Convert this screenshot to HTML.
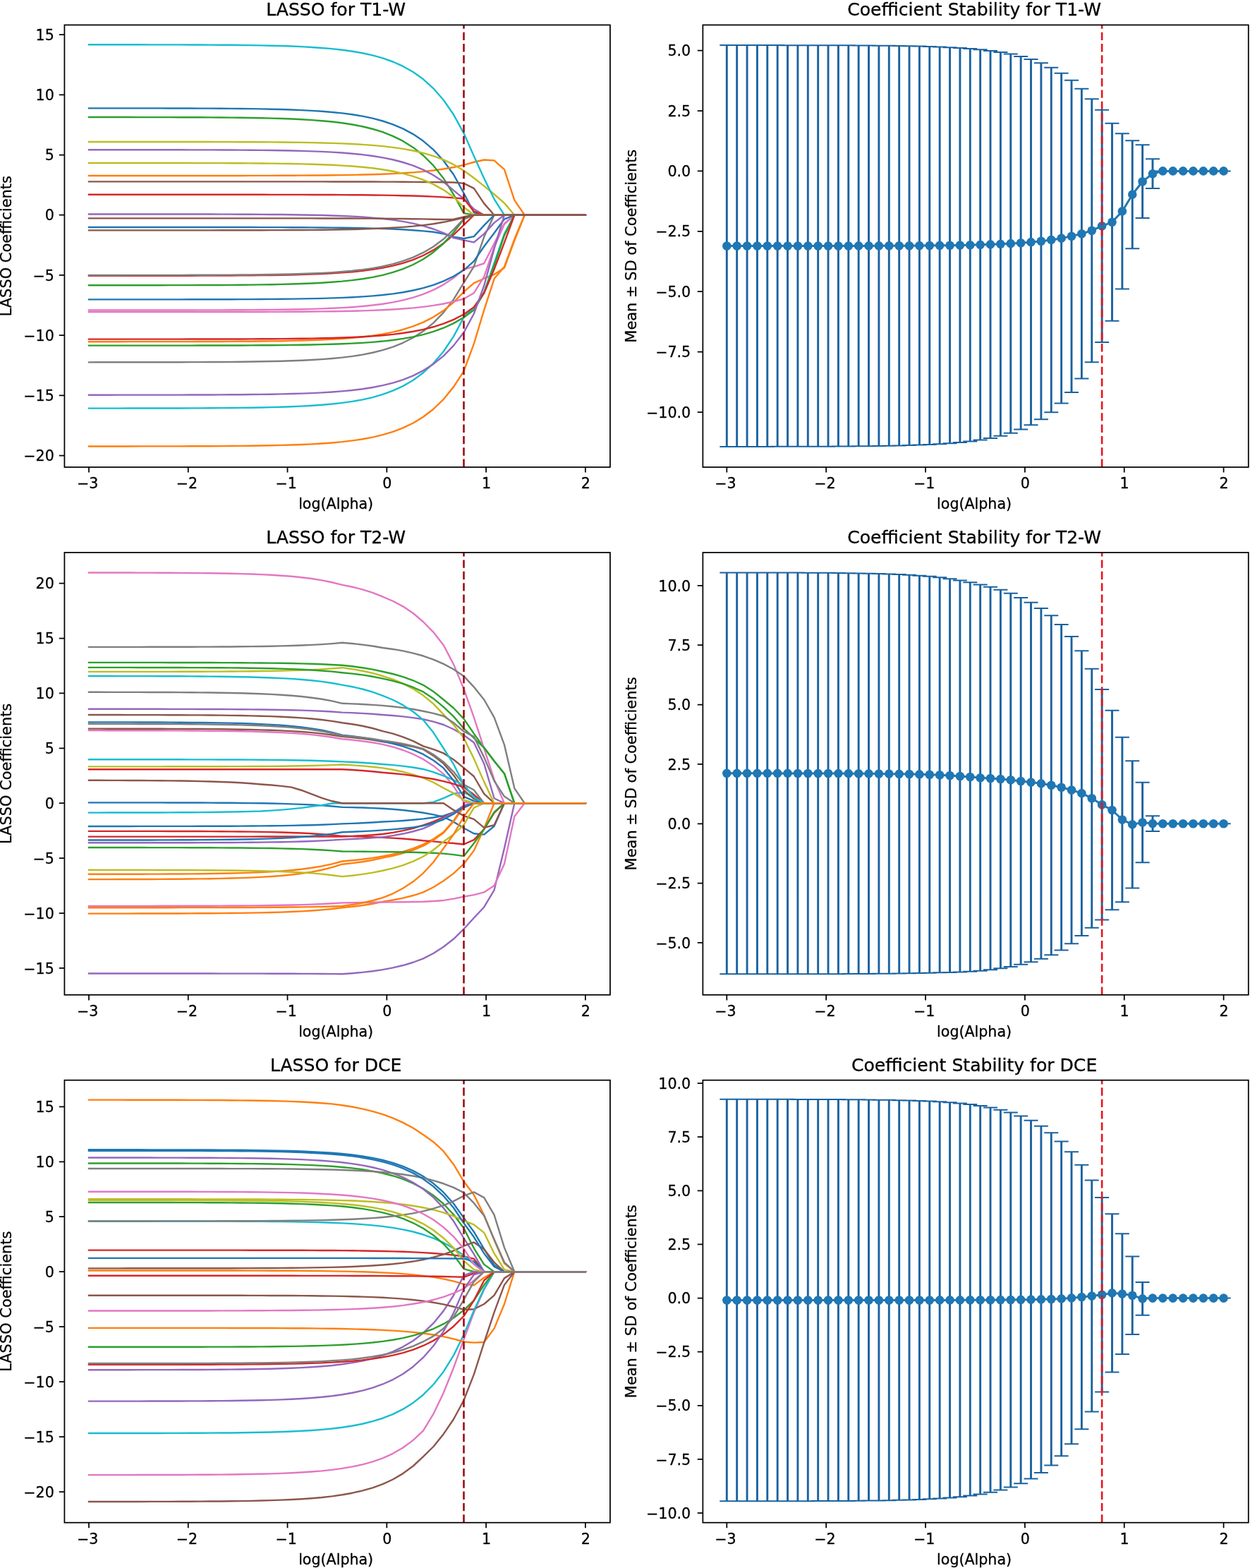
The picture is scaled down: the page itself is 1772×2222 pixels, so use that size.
<!DOCTYPE html>
<html lang="en"><head><meta charset="utf-8"><title>LASSO coefficient paths and stability</title>
<style>
html,body{margin:0;padding:0;background:#fff}
svg{display:block}
text{font-family:'DejaVu Sans','Liberation Sans',sans-serif;fill:#000;stroke:#000;stroke-width:0.3px}
.t{font-size:20.6px}
.yl{font-size:20.95px}
.ti{font-size:25.1px}
</style></head><body>
<svg xmlns="http://www.w3.org/2000/svg" width="1772" height="2222" viewBox="0 0 1772 2222">
<rect width="1772" height="2222" fill="#fff"/>
<clipPath id="c0a"><rect x="91.4" y="35.4" width="773.5" height="626.6"/></clipPath>
<g clip-path="url(#c0a)" fill="none" stroke-width="2.4" stroke-linejoin="round" stroke-linecap="square">
<polyline points="126,153.34 140.36,153.34 154.73,153.35 169.09,153.36 183.46,153.37 197.82,153.38 212.19,153.4 226.55,153.42 240.91,153.45 255.28,153.48 269.64,153.53 284.01,153.58 298.37,153.65 312.74,153.74 327.1,153.85 341.46,153.99 355.83,154.17 370.19,154.4 384.56,154.69 398.92,155.05 413.29,155.51 427.65,156.09 442.01,156.83 456.38,157.76 470.74,158.93 485.11,160.42 499.47,162.3 513.84,164.68 528.2,167.69 542.56,171.5 556.93,176.31 571.29,182.4 585.66,190.11 600.02,199.85 614.39,212.17 628.75,227.76 643.11,247.48 657.48,273.72 671.84,300.99 686.21,304.74 700.57,304.74 714.94,304.74 729.3,304.74 743.66,304.74 758.03,304.74 772.39,304.74 786.76,304.74 801.12,304.74 815.49,304.74 829.85,304.74" stroke="#1f77b4"/>
<polyline points="126,249.01 140.36,249.01 154.73,249.01 169.09,249.01 183.46,249.01 197.82,249 212.19,249 226.55,249 240.91,249 255.28,248.99 269.64,248.99 284.01,248.98 298.37,248.97 312.74,248.96 327.1,248.94 341.46,248.93 355.83,248.9 370.19,248.87 384.56,248.84 398.92,248.79 413.29,248.73 427.65,248.66 442.01,248.57 456.38,248.45 470.74,248.3 485.11,248.11 499.47,247.87 513.84,247.57 528.2,247.18 542.56,246.7 556.93,246.08 571.29,245.31 585.66,244.33 600.02,243.09 614.39,241.52 628.75,239.53 643.11,237.02 657.48,233.84 671.84,229.75 686.21,226.52 700.57,227.37 714.94,240.15 729.3,283.61 743.66,304.74 758.03,304.74 772.39,304.74 786.76,304.74 801.12,304.74 815.49,304.74 829.85,304.74" stroke="#ff7f0e"/>
<polyline points="126,166.04 140.36,166.04 154.73,166.05 169.09,166.06 183.46,166.07 197.82,166.09 212.19,166.11 226.55,166.13 240.91,166.17 255.28,166.21 269.64,166.26 284.01,166.32 298.37,166.4 312.74,166.51 327.1,166.64 341.46,166.8 355.83,167.01 370.19,167.28 384.56,167.61 398.92,168.04 413.29,168.57 427.65,169.25 442.01,170.11 456.38,171.19 470.74,172.56 485.11,174.29 499.47,176.49 513.84,179.26 528.2,182.77 542.56,187.2 556.93,192.82 571.29,199.92 585.66,208.9 600.02,220.25 614.39,234.62 628.75,252.79 643.11,275.77 657.48,302.19 671.84,304.74 686.21,304.74 700.57,304.74 714.94,304.74 729.3,304.74 743.66,304.74 758.03,304.74 772.39,304.74 786.76,304.74 801.12,304.74 815.49,304.74 829.85,304.74" stroke="#2ca02c"/>
<polyline points="126,390.8 140.36,390.79 154.73,390.79 169.09,390.78 183.46,390.78 197.82,390.77 212.19,390.76 226.55,390.75 240.91,390.73 255.28,390.71 269.64,390.68 284.01,390.65 298.37,390.6 312.74,390.55 327.1,390.48 341.46,390.39 355.83,390.28 370.19,390.14 384.56,389.96 398.92,389.74 413.29,389.45 427.65,389.09 442.01,388.64 456.38,388.06 470.74,387.33 485.11,386.41 499.47,385.25 513.84,383.78 528.2,381.91 542.56,379.56 556.93,376.58 571.29,372.81 585.66,368.04 600.02,362.01 614.39,354.38 628.75,344.73 643.11,332.52 657.48,318.89 671.84,304.74 686.21,304.74 700.57,304.74 714.94,304.74 729.3,304.74 743.66,304.74 758.03,304.74 772.39,304.74 786.76,304.74 801.12,304.74 815.49,304.74 829.85,304.74" stroke="#d62728"/>
<polyline points="126,212.21 140.36,212.22 154.73,212.22 169.09,212.22 183.46,212.23 197.82,212.24 212.19,212.25 226.55,212.26 240.91,212.28 255.28,212.3 269.64,212.33 284.01,212.36 298.37,212.41 312.74,212.46 327.1,212.53 341.46,212.61 355.83,212.72 370.19,212.86 384.56,213.04 398.92,213.26 413.29,213.54 427.65,213.9 442.01,214.35 456.38,214.92 470.74,215.64 485.11,216.55 499.47,217.7 513.84,219.15 528.2,220.99 542.56,223.32 556.93,226.27 571.29,229.99 585.66,234.71 600.02,240.67 614.39,248.21 628.75,257.74 643.11,269.81 657.48,281.56 671.84,296.22 686.21,304.74 700.57,304.74 714.94,304.74 729.3,304.74 743.66,304.74 758.03,304.74 772.39,304.74 786.76,304.74 801.12,304.74 815.49,304.74 829.85,304.74" stroke="#9467bd"/>
<polyline points="126,257.36 140.36,257.36 154.73,257.36 169.09,257.36 183.46,257.36 197.82,257.36 212.19,257.36 226.55,257.37 240.91,257.37 255.28,257.37 269.64,257.37 284.01,257.37 298.37,257.37 312.74,257.37 327.1,257.37 341.46,257.37 355.83,257.37 370.19,257.38 384.56,257.38 398.92,257.39 413.29,257.39 427.65,257.4 442.01,257.41 456.38,257.42 470.74,257.43 485.11,257.45 499.47,257.48 513.84,257.51 528.2,257.55 542.56,257.59 556.93,257.66 571.29,257.73 585.66,257.83 600.02,257.95 614.39,258.11 628.75,258.31 643.11,258.56 657.48,259.92 671.84,266.91 686.21,288.38 700.57,304.74 714.94,304.74 729.3,304.74 743.66,304.74 758.03,304.74 772.39,304.74 786.76,304.74 801.12,304.74 815.49,304.74 829.85,304.74" stroke="#8c564b"/>
<polyline points="126,439.54 140.36,439.54 154.73,439.54 169.09,439.53 183.46,439.53 197.82,439.52 212.19,439.51 226.55,439.5 240.91,439.49 255.28,439.47 269.64,439.45 284.01,439.42 298.37,439.39 312.74,439.35 327.1,439.29 341.46,439.22 355.83,439.13 370.19,439.02 384.56,438.88 398.92,438.71 413.29,438.48 427.65,438.2 442.01,437.84 456.38,437.39 470.74,436.82 485.11,436.1 499.47,435.18 513.84,434.02 528.2,432.56 542.56,430.71 556.93,428.36 571.29,425.4 585.66,421.65 600.02,416.91 614.39,410.92 628.75,403.33 643.11,393.74 657.48,381.61 671.84,378.03 686.21,373.26 700.57,344.96 714.94,316.67 729.3,304.74 743.66,304.74 758.03,304.74 772.39,304.74 786.76,304.74 801.12,304.74 815.49,304.74 829.85,304.74" stroke="#e377c2"/>
<polyline points="126,513.33 140.36,513.32 154.73,513.32 169.09,513.31 183.46,513.3 197.82,513.29 212.19,513.27 226.55,513.25 240.91,513.22 255.28,513.19 269.64,513.15 284.01,513.1 298.37,513.03 312.74,512.95 327.1,512.84 341.46,512.71 355.83,512.54 370.19,512.32 384.56,512.05 398.92,511.7 413.29,511.27 427.65,510.72 442.01,510.02 456.38,509.14 470.74,508.03 485.11,506.62 499.47,504.84 513.84,502.58 528.2,499.73 542.56,496.13 556.93,491.56 571.29,485.8 585.66,478.5 600.02,469.27 614.39,457.59 628.75,442.83 643.11,424.15 657.48,400.52 671.84,377.52 686.21,335.59 700.57,304.74 714.94,304.74 729.3,304.74 743.66,304.74 758.03,304.74 772.39,304.74 786.76,304.74 801.12,304.74 815.49,304.74 829.85,304.74" stroke="#7f7f7f"/>
<polyline points="126,200.96 140.36,200.96 154.73,200.96 169.09,200.97 183.46,200.97 197.82,200.97 212.19,200.98 226.55,200.99 240.91,201 255.28,201.01 269.64,201.02 284.01,201.04 298.37,201.07 312.74,201.1 327.1,201.14 341.46,201.18 355.83,201.25 370.19,201.32 384.56,201.42 398.92,201.55 413.29,201.7 427.65,201.9 442.01,202.15 456.38,202.47 470.74,202.87 485.11,203.38 499.47,204.02 513.84,204.84 528.2,205.87 542.56,207.17 556.93,208.82 571.29,210.9 585.66,213.53 600.02,216.87 614.39,221.08 628.75,226.41 643.11,233.16 657.48,241.68 671.84,252.25 686.21,263.67 700.57,275.26 714.94,287.87 729.3,304.74 743.66,304.74 758.03,304.74 772.39,304.74 786.76,304.74 801.12,304.74 815.49,304.74 829.85,304.74" stroke="#bcbd22"/>
<polyline points="126,63.27 140.36,63.27 154.73,63.28 169.09,63.29 183.46,63.3 197.82,63.31 212.19,63.33 226.55,63.35 240.91,63.38 255.28,63.42 269.64,63.47 284.01,63.52 298.37,63.6 312.74,63.69 327.1,63.81 341.46,63.96 355.83,64.15 370.19,64.39 384.56,64.69 398.92,65.07 413.29,65.56 427.65,66.17 442.01,66.95 456.38,67.93 470.74,69.17 485.11,70.74 499.47,72.72 513.84,75.23 528.2,78.4 542.56,82.42 556.93,87.5 571.29,93.92 585.66,102.04 600.02,112.32 614.39,125.32 628.75,141.76 643.11,162.55 657.48,188.85 671.84,221.23 686.21,252.76 700.57,282.08 714.94,304.74 729.3,304.74 743.66,304.74 758.03,304.74 772.39,304.74 786.76,304.74 801.12,304.74 815.49,304.74 829.85,304.74" stroke="#17becf"/>
<polyline points="126,321.96 140.36,321.96 154.73,321.96 169.09,321.96 183.46,321.96 197.82,321.96 212.19,321.97 226.55,321.97 240.91,321.97 255.28,321.98 269.64,321.98 284.01,321.99 298.37,321.99 312.74,322.01 327.1,322.02 341.46,322.03 355.83,322.06 370.19,322.08 384.56,322.11 398.92,322.16 413.29,322.21 427.65,322.28 442.01,322.36 456.38,322.47 470.74,322.61 485.11,322.78 499.47,323 513.84,323.27 528.2,323.62 542.56,324.06 556.93,324.62 571.29,325.32 585.66,326.22 600.02,327.35 614.39,328.77 628.75,331.41 643.11,335.59 657.48,337.98 671.84,335.08 686.21,319.4 700.57,304.74 714.94,304.74 729.3,304.74 743.66,304.74 758.03,304.74 772.39,304.74 786.76,304.74 801.12,304.74 815.49,304.74 829.85,304.74" stroke="#1f77b4"/>
<polyline points="126,484.19 140.36,484.19 154.73,484.19 169.09,484.18 183.46,484.17 197.82,484.17 212.19,484.16 226.55,484.14 240.91,484.13 255.28,484.11 269.64,484.08 284.01,484.05 298.37,484.01 312.74,483.95 327.1,483.89 341.46,483.8 355.83,483.7 370.19,483.56 384.56,483.39 398.92,483.18 413.29,482.9 427.65,482.56 442.01,482.12 456.38,481.57 470.74,480.88 485.11,480 499.47,478.88 513.84,477.47 528.2,475.69 542.56,473.43 556.93,470.58 571.29,466.97 585.66,462.41 600.02,456.64 614.39,449.34 628.75,440.1 643.11,428.42 657.48,413.65 671.84,401.04 686.21,394.73 700.57,388.93 714.94,379.56 729.3,340.87 743.66,304.74 758.03,304.74 772.39,304.74 786.76,304.74 801.12,304.74 815.49,304.74 829.85,304.74" stroke="#ff7f0e"/>
<polyline points="126,404.26 140.36,404.25 154.73,404.25 169.09,404.24 183.46,404.23 197.82,404.22 212.19,404.21 226.55,404.19 240.91,404.17 255.28,404.14 269.64,404.11 284.01,404.06 298.37,404.01 312.74,403.94 327.1,403.85 341.46,403.73 355.83,403.59 370.19,403.41 384.56,403.18 398.92,402.89 413.29,402.53 427.65,402.06 442.01,401.48 456.38,400.74 470.74,399.8 485.11,398.62 499.47,397.12 513.84,395.22 528.2,392.83 542.56,389.8 556.93,385.96 571.29,381.11 585.66,374.98 600.02,367.22 614.39,357.4 628.75,344.99 643.11,329.28 657.48,310.54 671.84,304.74 686.21,304.74 700.57,304.74 714.94,304.74 729.3,304.74 743.66,304.74 758.03,304.74 772.39,304.74 786.76,304.74 801.12,304.74 815.49,304.74 829.85,304.74" stroke="#2ca02c"/>
<polyline points="126,275.77 140.36,275.77 154.73,275.77 169.09,275.77 183.46,275.77 197.82,275.77 212.19,275.77 226.55,275.78 240.91,275.78 255.28,275.78 269.64,275.78 284.01,275.78 298.37,275.79 312.74,275.79 327.1,275.8 341.46,275.8 355.83,275.81 370.19,275.82 384.56,275.84 398.92,275.85 413.29,275.88 427.65,275.91 442.01,275.94 456.38,275.99 470.74,276.04 485.11,276.12 499.47,276.21 513.84,276.32 528.2,276.47 542.56,276.65 556.93,276.89 571.29,277.19 585.66,277.56 600.02,278.03 614.39,278.63 628.75,279.39 643.11,280.35 657.48,281.56 671.84,299.63 686.21,304.74 700.57,304.74 714.94,304.74 729.3,304.74 743.66,304.74 758.03,304.74 772.39,304.74 786.76,304.74 801.12,304.74 815.49,304.74 829.85,304.74" stroke="#d62728"/>
<polyline points="126,303.45 140.36,303.46 154.73,303.46 169.09,303.46 183.46,303.47 197.82,303.47 212.19,303.48 226.55,303.48 240.91,303.49 255.28,303.51 269.64,303.52 284.01,303.54 298.37,303.57 312.74,303.6 327.1,303.64 341.46,303.69 355.83,303.75 370.19,303.84 384.56,303.94 398.92,304.07 413.29,304.23 427.65,304.44 442.01,304.7 456.38,305.04 470.74,305.46 485.11,305.99 499.47,306.66 513.84,307.51 528.2,308.59 542.56,309.95 556.93,311.67 571.29,313.85 585.66,316.6 600.02,320.09 614.39,324.5 628.75,330.07 643.11,337.12 657.48,340.36 671.84,343.43 686.21,331.41 700.57,315.65 714.94,304.74 729.3,304.74 743.66,304.74 758.03,304.74 772.39,304.74 786.76,304.74 801.12,304.74 815.49,304.74 829.85,304.74" stroke="#9467bd"/>
<polyline points="126,309.34 140.36,309.35 154.73,309.35 169.09,309.35 183.46,309.35 197.82,309.35 212.19,309.35 226.55,309.35 240.91,309.35 255.28,309.35 269.64,309.35 284.01,309.35 298.37,309.35 312.74,309.35 327.1,309.36 341.46,309.36 355.83,309.36 370.19,309.37 384.56,309.38 398.92,309.38 413.29,309.39 427.65,309.41 442.01,309.42 456.38,309.45 470.74,309.47 485.11,309.51 499.47,309.55 513.84,309.6 528.2,309.67 542.56,309.76 556.93,309.87 571.29,310.01 585.66,310.19 600.02,310.41 614.39,310.69 628.75,311.05 643.11,310.71 657.48,307.3 671.84,304.74 686.21,304.74 700.57,304.74 714.94,304.74 729.3,304.74 743.66,304.74 758.03,304.74 772.39,304.74 786.76,304.74 801.12,304.74 815.49,304.74 829.85,304.74" stroke="#8c564b"/>
<polyline points="126,442.11 140.36,442.1 154.73,442.1 169.09,442.1 183.46,442.1 197.82,442.1 212.19,442.1 226.55,442.09 240.91,442.09 255.28,442.08 269.64,442.08 284.01,442.07 298.37,442.06 312.74,442.04 327.1,442.02 341.46,442 355.83,441.97 370.19,441.94 384.56,441.89 398.92,441.84 413.29,441.77 427.65,441.68 442.01,441.56 456.38,441.42 470.74,441.23 485.11,441 499.47,440.71 513.84,440.34 528.2,439.87 542.56,439.27 556.93,438.52 571.29,437.57 585.66,436.37 600.02,434.85 614.39,432.93 628.75,430.5 643.11,427.42 657.48,423.53 671.84,415.18 686.21,392.17 700.57,350.25 714.94,317.87 729.3,304.74 743.66,304.74 758.03,304.74 772.39,304.74 786.76,304.74 801.12,304.74 815.49,304.74 829.85,304.74" stroke="#e377c2"/>
<polyline points="126,389.94 140.36,389.94 154.73,389.94 169.09,389.93 183.46,389.92 197.82,389.91 212.19,389.9 226.55,389.89 240.91,389.87 255.28,389.84 269.64,389.81 284.01,389.78 298.37,389.73 312.74,389.67 327.1,389.59 341.46,389.49 355.83,389.37 370.19,389.21 384.56,389.01 398.92,388.76 413.29,388.45 427.65,388.05 442.01,387.54 456.38,386.9 470.74,386.09 485.11,385.07 499.47,383.78 513.84,382.14 528.2,380.07 542.56,377.45 556.93,374.14 571.29,369.95 585.66,364.65 600.02,357.95 614.39,349.48 628.75,338.76 643.11,325.19 657.48,310.03 671.84,304.74 686.21,304.74 700.57,304.74 714.94,304.74 729.3,304.74 743.66,304.74 758.03,304.74 772.39,304.74 786.76,304.74 801.12,304.74 815.49,304.74 829.85,304.74" stroke="#7f7f7f"/>
<polyline points="126,230.96 140.36,230.96 154.73,230.96 169.09,230.97 183.46,230.97 197.82,230.98 212.19,230.99 226.55,231 240.91,231.01 255.28,231.03 269.64,231.05 284.01,231.08 298.37,231.12 312.74,231.16 327.1,231.22 341.46,231.29 355.83,231.39 370.19,231.5 384.56,231.65 398.92,231.84 413.29,232.07 427.65,232.37 442.01,232.75 456.38,233.22 470.74,233.82 485.11,234.59 499.47,235.55 513.84,236.77 528.2,238.31 542.56,240.26 556.93,242.73 571.29,245.85 585.66,249.79 600.02,254.78 614.39,261.09 628.75,269.08 643.11,279.18 657.48,293.49 671.84,304.74 686.21,304.74 700.57,304.74 714.94,304.74 729.3,304.74 743.66,304.74 758.03,304.74 772.39,304.74 786.76,304.74 801.12,304.74 815.49,304.74 829.85,304.74" stroke="#bcbd22"/>
<polyline points="126,578.6 140.36,578.59 154.73,578.59 169.09,578.58 183.46,578.57 197.82,578.55 212.19,578.53 226.55,578.51 240.91,578.48 255.28,578.44 269.64,578.39 284.01,578.33 298.37,578.26 312.74,578.16 327.1,578.04 341.46,577.89 355.83,577.69 370.19,577.45 384.56,577.14 398.92,576.74 413.29,576.25 427.65,575.62 442.01,574.82 456.38,573.81 470.74,572.54 485.11,570.93 499.47,568.89 513.84,566.31 528.2,563.05 542.56,558.93 556.93,553.71 571.29,547.12 585.66,538.77 600.02,528.22 614.39,514.87 628.75,497.98 643.11,476.62 657.48,449.61 671.84,435.97 686.21,413.82 700.57,372.91 714.94,331.33 729.3,304.74 743.66,304.74 758.03,304.74 772.39,304.74 786.76,304.74 801.12,304.74 815.49,304.74 829.85,304.74" stroke="#17becf"/>
<polyline points="126,424.38 140.36,424.37 154.73,424.37 169.09,424.37 183.46,424.37 197.82,424.36 212.19,424.36 226.55,424.35 240.91,424.34 255.28,424.33 269.64,424.31 284.01,424.29 298.37,424.27 312.74,424.24 327.1,424.2 341.46,424.15 355.83,424.08 370.19,424.01 384.56,423.9 398.92,423.78 413.29,423.62 427.65,423.41 442.01,423.16 456.38,422.83 470.74,422.42 485.11,421.9 499.47,421.25 513.84,420.42 528.2,419.37 542.56,418.04 556.93,416.35 571.29,414.23 585.66,411.54 600.02,408.14 614.39,403.83 628.75,398.39 643.11,391.51 657.48,382.8 671.84,370.19 686.21,349.22 700.57,330.31 714.94,310.54 729.3,304.74 743.66,304.74 758.03,304.74 772.39,304.74 786.76,304.74 801.12,304.74 815.49,304.74 829.85,304.74" stroke="#1f77b4"/>
<polyline points="126,632.46 140.36,632.45 154.73,632.45 169.09,632.44 183.46,632.43 197.82,632.42 212.19,632.4 226.55,632.38 240.91,632.36 255.28,632.33 269.64,632.29 284.01,632.24 298.37,632.18 312.74,632.1 327.1,632 341.46,631.87 355.83,631.71 370.19,631.51 384.56,631.25 398.92,630.92 413.29,630.51 427.65,629.99 442.01,629.33 456.38,628.5 470.74,627.45 485.11,626.11 499.47,624.43 513.84,622.3 528.2,619.6 542.56,616.19 556.93,611.88 571.29,606.42 585.66,599.52 600.02,590.79 614.39,579.75 628.75,565.79 643.11,548.13 657.48,525.79 671.84,487.1 686.21,439.38 700.57,395.07 714.94,378.03 729.3,338.83 743.66,304.74 758.03,304.74 772.39,304.74 786.76,304.74 801.12,304.74 815.49,304.74 829.85,304.74" stroke="#ff7f0e"/>
<polyline points="126,489.65 140.36,489.65 154.73,489.65 169.09,489.64 183.46,489.64 197.82,489.64 212.19,489.63 226.55,489.62 240.91,489.61 255.28,489.6 269.64,489.59 284.01,489.57 298.37,489.55 312.74,489.52 327.1,489.48 341.46,489.43 355.83,489.37 370.19,489.29 384.56,489.2 398.92,489.08 413.29,488.92 427.65,488.73 442.01,488.48 456.38,488.17 470.74,487.78 485.11,487.28 499.47,486.65 513.84,485.85 528.2,484.85 542.56,483.57 556.93,481.96 571.29,479.92 585.66,477.34 600.02,474.08 614.39,469.95 628.75,464.73 643.11,458.13 657.48,449.78 671.84,439.38 686.21,415.18 700.57,376.32 714.94,333.72 729.3,304.74 743.66,304.74 758.03,304.74 772.39,304.74 786.76,304.74 801.12,304.74 815.49,304.74 829.85,304.74" stroke="#2ca02c"/>
<polyline points="126,480.62 140.36,480.62 154.73,480.62 169.09,480.61 183.46,480.61 197.82,480.61 212.19,480.6 226.55,480.59 240.91,480.59 255.28,480.58 269.64,480.56 284.01,480.55 298.37,480.53 312.74,480.5 327.1,480.47 341.46,480.43 355.83,480.37 370.19,480.31 384.56,480.22 398.92,480.11 413.29,479.98 427.65,479.81 442.01,479.59 456.38,479.32 470.74,478.97 485.11,478.53 499.47,477.98 513.84,477.28 528.2,476.39 542.56,475.27 556.93,473.85 571.29,472.05 585.66,469.78 600.02,466.91 614.39,463.28 628.75,458.68 643.11,452.87 657.48,445.52 671.84,435.12 686.21,415.18 700.57,381.61 714.94,343.94 729.3,304.74 743.66,304.74 758.03,304.74 772.39,304.74 786.76,304.74 801.12,304.74 815.49,304.74 829.85,304.74" stroke="#d62728"/>
<polyline points="126,559.69 140.36,559.69 154.73,559.68 169.09,559.67 183.46,559.67 197.82,559.66 212.19,559.64 226.55,559.63 240.91,559.61 255.28,559.58 269.64,559.55 284.01,559.51 298.37,559.45 312.74,559.39 327.1,559.31 341.46,559.2 355.83,559.07 370.19,558.9 384.56,558.68 398.92,558.41 413.29,558.07 427.65,557.64 442.01,557.09 456.38,556.4 470.74,555.53 485.11,554.42 499.47,553.02 513.84,551.25 528.2,549.01 542.56,546.18 556.93,542.59 571.29,538.06 585.66,532.33 600.02,525.08 614.39,515.91 628.75,504.31 643.11,489.64 657.48,471.08 671.84,444.49 686.21,404.78 700.57,352.46 714.94,304.74 729.3,304.74 743.66,304.74 758.03,304.74 772.39,304.74 786.76,304.74 801.12,304.74 815.49,304.74 829.85,304.74" stroke="#9467bd"/>
<polyline points="126,326.38 140.36,326.38 154.73,326.38 169.09,326.38 183.46,326.38 197.82,326.38 212.19,326.37 226.55,326.37 240.91,326.37 255.28,326.36 269.64,326.35 284.01,326.35 298.37,326.34 312.74,326.32 327.1,326.3 341.46,326.28 355.83,326.25 370.19,326.22 384.56,326.17 398.92,326.12 413.29,326.05 427.65,325.96 442.01,325.84 456.38,325.7 470.74,325.51 485.11,325.28 499.47,324.99 513.84,324.62 528.2,324.15 542.56,323.56 556.93,322.81 571.29,321.86 585.66,320.66 600.02,319.14 614.39,317.23 628.75,314.8 643.11,311.73 657.48,308.32 671.84,304.74 686.21,304.74 700.57,304.74 714.94,304.74 729.3,304.74 743.66,304.74 758.03,304.74 772.39,304.74 786.76,304.74 801.12,304.74 815.49,304.74 829.85,304.74" stroke="#8c564b"/>
<line x1="657.48" y1="662" x2="657.48" y2="35.4" stroke="#a00a0f" stroke-width="2.6" stroke-dasharray="11.4 4.95" stroke-linecap="butt" fill="none"/>
</g>
<rect x="91.4" y="35.4" width="773.5" height="626.6" fill="none" stroke="#000" stroke-width="1.75" stroke-linejoin="miter"/>
<path d="M126 662v7.6M266.77 662v7.6M407.54 662v7.6M548.31 662v7.6M689.08 662v7.6M829.85 662v7.6M91.4 49.1h-7.6M91.4 134.31h-7.6M91.4 219.53h-7.6M91.4 304.74h-7.6M91.4 389.96h-7.6M91.4 475.17h-7.6M91.4 560.39h-7.6M91.4 645.6h-7.6" stroke="#000" stroke-width="1.75" fill="none"/>
<text x="124.2" y="691.8" text-anchor="middle" class="t">−3</text>
<text x="264.97" y="691.8" text-anchor="middle" class="t">−2</text>
<text x="405.74" y="691.8" text-anchor="middle" class="t">−1</text>
<text x="548.71" y="691.8" text-anchor="middle" class="t">0</text>
<text x="689.48" y="691.8" text-anchor="middle" class="t">1</text>
<text x="830.25" y="691.8" text-anchor="middle" class="t">2</text>
<text x="76.8" y="56.7" text-anchor="end" class="t">15</text>
<text x="76.8" y="141.91" text-anchor="end" class="t">10</text>
<text x="76.8" y="227.13" text-anchor="end" class="t">5</text>
<text x="76.8" y="312.34" text-anchor="end" class="t">0</text>
<text x="76.8" y="397.56" text-anchor="end" class="t">−5</text>
<text x="76.8" y="482.77" text-anchor="end" class="t">−10</text>
<text x="76.8" y="567.99" text-anchor="end" class="t">−15</text>
<text x="76.8" y="653.2" text-anchor="end" class="t">−20</text>
<text x="476.15" y="22.4" text-anchor="middle" class="ti">LASSO for T1-W</text>
<text x="476.15" y="721.3" text-anchor="middle" class="t">log(Alpha)</text>
<text transform="translate(16.4 348.7) rotate(-90)" text-anchor="middle" class="yl">LASSO Coefficients</text>
<clipPath id="c0b"><rect x="996.35" y="35.4" width="773.45" height="626.6"/></clipPath>
<g clip-path="url(#c0b)" fill="none">
<path d="M1030.3 632.92V64.08M1044.67 632.91V64.09M1059.05 632.9V64.09M1073.42 632.89V64.1M1087.79 632.88V64.11M1102.17 632.86V64.12M1116.54 632.83V64.14M1130.91 632.8V64.16M1145.29 632.77V64.18M1159.66 632.72V64.21M1174.03 632.66V64.25M1188.41 632.59V64.3M1202.78 632.49V64.36M1217.16 632.37V64.44M1231.53 632.22V64.54M1245.9 632.03V64.66M1260.28 631.79V64.82M1274.65 631.48V65.02M1289.02 631.1V65.27M1303.4 630.61V65.59M1317.77 629.99V66M1332.14 629.21V66.51M1346.52 628.22V67.15M1360.89 626.97V67.97M1375.26 625.39V69M1389.64 623.4V70.3M1404.01 620.88V71.94M1418.38 617.7V74.01M1432.76 613.68V76.62M1447.13 608.62V79.91M1461.5 602.24V84.04M1475.88 594.22V89.21M1490.25 584.16V95.69M1504.62 571.56V103.73M1519 555.88V113.66M1533.37 536.58V125.82M1547.74 513.16V140.21M1562.12 484.99V155.66M1576.49 454.86V174.78M1590.87 409.52V189.31M1605.24 352.16V199.17M1619.61 309.12V205.32M1633.99 267.06V225.3M1648.36 242.4V242.4M1662.73 242.4V242.4M1677.11 242.4V242.4M1691.48 242.4V242.4M1705.85 242.4V242.4M1720.23 242.4V242.4M1734.6 242.4V242.4" stroke="#1a62a0" stroke-width="2.9"/>
<path d="M1020.3 64.08h20M1020.3 632.92h20M1034.67 64.09h20M1034.67 632.91h20M1049.05 64.09h20M1049.05 632.9h20M1063.42 64.1h20M1063.42 632.89h20M1077.79 64.11h20M1077.79 632.88h20M1092.17 64.12h20M1092.17 632.86h20M1106.54 64.14h20M1106.54 632.83h20M1120.91 64.16h20M1120.91 632.8h20M1135.29 64.18h20M1135.29 632.77h20M1149.66 64.21h20M1149.66 632.72h20M1164.03 64.25h20M1164.03 632.66h20M1178.41 64.3h20M1178.41 632.59h20M1192.78 64.36h20M1192.78 632.49h20M1207.16 64.44h20M1207.16 632.37h20M1221.53 64.54h20M1221.53 632.22h20M1235.9 64.66h20M1235.9 632.03h20M1250.28 64.82h20M1250.28 631.79h20M1264.65 65.02h20M1264.65 631.48h20M1279.02 65.27h20M1279.02 631.1h20M1293.4 65.59h20M1293.4 630.61h20M1307.77 66h20M1307.77 629.99h20M1322.14 66.51h20M1322.14 629.21h20M1336.52 67.15h20M1336.52 628.22h20M1350.89 67.97h20M1350.89 626.97h20M1365.26 69h20M1365.26 625.39h20M1379.64 70.3h20M1379.64 623.4h20M1394.01 71.94h20M1394.01 620.88h20M1408.38 74.01h20M1408.38 617.7h20M1422.76 76.62h20M1422.76 613.68h20M1437.13 79.91h20M1437.13 608.62h20M1451.5 84.04h20M1451.5 602.24h20M1465.88 89.21h20M1465.88 594.22h20M1480.25 95.69h20M1480.25 584.16h20M1494.62 103.73h20M1494.62 571.56h20M1509 113.66h20M1509 555.88h20M1523.37 125.82h20M1523.37 536.58h20M1537.74 140.21h20M1537.74 513.16h20M1552.12 155.66h20M1552.12 484.99h20M1566.49 174.78h20M1566.49 454.86h20M1580.87 189.31h20M1580.87 409.52h20M1595.24 199.17h20M1595.24 352.16h20M1609.61 205.32h20M1609.61 309.12h20M1623.99 225.3h20M1623.99 267.06h20M1638.36 242.4h20M1638.36 242.4h20M1652.73 242.4h20M1652.73 242.4h20M1667.11 242.4h20M1667.11 242.4h20M1681.48 242.4h20M1681.48 242.4h20M1695.85 242.4h20M1695.85 242.4h20M1710.23 242.4h20M1710.23 242.4h20M1724.6 242.4h20M1724.6 242.4h20" stroke="#1a62a0" stroke-width="2.0"/>
<polyline points="1030.3,348.5 1044.67,348.5 1059.05,348.5 1073.42,348.5 1087.79,348.49 1102.17,348.49 1116.54,348.49 1130.91,348.48 1145.29,348.47 1159.66,348.47 1174.03,348.46 1188.41,348.44 1202.78,348.43 1217.16,348.41 1231.53,348.38 1245.9,348.35 1260.28,348.3 1274.65,348.25 1289.02,348.18 1303.4,348.1 1317.77,347.99 1332.14,347.86 1346.52,347.69 1360.89,347.47 1375.26,347.19 1389.64,346.85 1404.01,346.41 1418.38,345.85 1432.76,345.15 1447.13,344.26 1461.5,343.14 1475.88,341.72 1490.25,339.92 1504.62,337.65 1519,334.77 1533.37,331.2 1547.74,326.69 1562.12,320.32 1576.49,314.82 1590.87,299.41 1605.24,275.67 1619.61,257.22 1633.99,246.18 1648.36,242.4 1662.73,242.4 1677.11,242.4 1691.48,242.4 1705.85,242.4 1720.23,242.4 1734.6,242.4" stroke="#1f77b4" stroke-width="3.0" stroke-linejoin="round"/>
<circle cx="1030.3" cy="348.5" r="6.3" fill="#1f77b4" stroke="none"/>
<circle cx="1044.67" cy="348.5" r="6.3" fill="#1f77b4" stroke="none"/>
<circle cx="1059.05" cy="348.5" r="6.3" fill="#1f77b4" stroke="none"/>
<circle cx="1073.42" cy="348.5" r="6.3" fill="#1f77b4" stroke="none"/>
<circle cx="1087.79" cy="348.49" r="6.3" fill="#1f77b4" stroke="none"/>
<circle cx="1102.17" cy="348.49" r="6.3" fill="#1f77b4" stroke="none"/>
<circle cx="1116.54" cy="348.49" r="6.3" fill="#1f77b4" stroke="none"/>
<circle cx="1130.91" cy="348.48" r="6.3" fill="#1f77b4" stroke="none"/>
<circle cx="1145.29" cy="348.47" r="6.3" fill="#1f77b4" stroke="none"/>
<circle cx="1159.66" cy="348.47" r="6.3" fill="#1f77b4" stroke="none"/>
<circle cx="1174.03" cy="348.46" r="6.3" fill="#1f77b4" stroke="none"/>
<circle cx="1188.41" cy="348.44" r="6.3" fill="#1f77b4" stroke="none"/>
<circle cx="1202.78" cy="348.43" r="6.3" fill="#1f77b4" stroke="none"/>
<circle cx="1217.16" cy="348.41" r="6.3" fill="#1f77b4" stroke="none"/>
<circle cx="1231.53" cy="348.38" r="6.3" fill="#1f77b4" stroke="none"/>
<circle cx="1245.9" cy="348.35" r="6.3" fill="#1f77b4" stroke="none"/>
<circle cx="1260.28" cy="348.3" r="6.3" fill="#1f77b4" stroke="none"/>
<circle cx="1274.65" cy="348.25" r="6.3" fill="#1f77b4" stroke="none"/>
<circle cx="1289.02" cy="348.18" r="6.3" fill="#1f77b4" stroke="none"/>
<circle cx="1303.4" cy="348.1" r="6.3" fill="#1f77b4" stroke="none"/>
<circle cx="1317.77" cy="347.99" r="6.3" fill="#1f77b4" stroke="none"/>
<circle cx="1332.14" cy="347.86" r="6.3" fill="#1f77b4" stroke="none"/>
<circle cx="1346.52" cy="347.69" r="6.3" fill="#1f77b4" stroke="none"/>
<circle cx="1360.89" cy="347.47" r="6.3" fill="#1f77b4" stroke="none"/>
<circle cx="1375.26" cy="347.19" r="6.3" fill="#1f77b4" stroke="none"/>
<circle cx="1389.64" cy="346.85" r="6.3" fill="#1f77b4" stroke="none"/>
<circle cx="1404.01" cy="346.41" r="6.3" fill="#1f77b4" stroke="none"/>
<circle cx="1418.38" cy="345.85" r="6.3" fill="#1f77b4" stroke="none"/>
<circle cx="1432.76" cy="345.15" r="6.3" fill="#1f77b4" stroke="none"/>
<circle cx="1447.13" cy="344.26" r="6.3" fill="#1f77b4" stroke="none"/>
<circle cx="1461.5" cy="343.14" r="6.3" fill="#1f77b4" stroke="none"/>
<circle cx="1475.88" cy="341.72" r="6.3" fill="#1f77b4" stroke="none"/>
<circle cx="1490.25" cy="339.92" r="6.3" fill="#1f77b4" stroke="none"/>
<circle cx="1504.62" cy="337.65" r="6.3" fill="#1f77b4" stroke="none"/>
<circle cx="1519" cy="334.77" r="6.3" fill="#1f77b4" stroke="none"/>
<circle cx="1533.37" cy="331.2" r="6.3" fill="#1f77b4" stroke="none"/>
<circle cx="1547.74" cy="326.69" r="6.3" fill="#1f77b4" stroke="none"/>
<circle cx="1562.12" cy="320.32" r="6.3" fill="#1f77b4" stroke="none"/>
<circle cx="1576.49" cy="314.82" r="6.3" fill="#1f77b4" stroke="none"/>
<circle cx="1590.87" cy="299.41" r="6.3" fill="#1f77b4" stroke="none"/>
<circle cx="1605.24" cy="275.67" r="6.3" fill="#1f77b4" stroke="none"/>
<circle cx="1619.61" cy="257.22" r="6.3" fill="#1f77b4" stroke="none"/>
<circle cx="1633.99" cy="246.18" r="6.3" fill="#1f77b4" stroke="none"/>
<circle cx="1648.36" cy="242.4" r="6.3" fill="#1f77b4" stroke="none"/>
<circle cx="1662.73" cy="242.4" r="6.3" fill="#1f77b4" stroke="none"/>
<circle cx="1677.11" cy="242.4" r="6.3" fill="#1f77b4" stroke="none"/>
<circle cx="1691.48" cy="242.4" r="6.3" fill="#1f77b4" stroke="none"/>
<circle cx="1705.85" cy="242.4" r="6.3" fill="#1f77b4" stroke="none"/>
<circle cx="1720.23" cy="242.4" r="6.3" fill="#1f77b4" stroke="none"/>
<circle cx="1734.6" cy="242.4" r="6.3" fill="#1f77b4" stroke="none"/>
<line x1="1562.12" y1="662" x2="1562.12" y2="35.4" stroke="#e8141a" stroke-width="2.6" stroke-dasharray="11.4 4.95" stroke-linecap="butt" fill="none"/>
</g>
<rect x="996.35" y="35.4" width="773.45" height="626.6" fill="none" stroke="#000" stroke-width="1.75" stroke-linejoin="miter"/>
<path d="M1030.3 662v7.6M1171.16 662v7.6M1312.02 662v7.6M1452.88 662v7.6M1593.74 662v7.6M1734.6 662v7.6M996.35 71.6h-7.6M996.35 157h-7.6M996.35 242.4h-7.6M996.35 327.8h-7.6M996.35 413.2h-7.6M996.35 498.6h-7.6M996.35 584h-7.6" stroke="#000" stroke-width="1.75" fill="none"/>
<text x="1028.5" y="691.8" text-anchor="middle" class="t">−3</text>
<text x="1169.36" y="691.8" text-anchor="middle" class="t">−2</text>
<text x="1310.22" y="691.8" text-anchor="middle" class="t">−1</text>
<text x="1453.28" y="691.8" text-anchor="middle" class="t">0</text>
<text x="1594.14" y="691.8" text-anchor="middle" class="t">1</text>
<text x="1735" y="691.8" text-anchor="middle" class="t">2</text>
<text x="979.15" y="79.2" text-anchor="end" class="t">5.0</text>
<text x="979.15" y="164.6" text-anchor="end" class="t">2.5</text>
<text x="979.15" y="250" text-anchor="end" class="t">0.0</text>
<text x="979.15" y="335.4" text-anchor="end" class="t">−2.5</text>
<text x="979.15" y="420.8" text-anchor="end" class="t">−5.0</text>
<text x="979.15" y="506.2" text-anchor="end" class="t">−7.5</text>
<text x="979.15" y="591.6" text-anchor="end" class="t">−10.0</text>
<text x="1381.08" y="22.4" text-anchor="middle" class="ti">Coefficient Stability for T1-W</text>
<text x="1381.08" y="721.3" text-anchor="middle" class="t">log(Alpha)</text>
<text transform="translate(901.7 348.7) rotate(-90)" text-anchor="middle" class="yl">Mean ± SD of Coefficients</text>
<clipPath id="c1a"><rect x="91.4" y="783" width="773.5" height="626.8"/></clipPath>
<g clip-path="url(#c1a)" fill="none" stroke-width="2.4" stroke-linejoin="round" stroke-linecap="square">
<polyline points="126,1137.33 140.36,1137.33 154.73,1137.34 169.09,1137.35 183.46,1137.36 197.82,1137.37 212.19,1137.38 226.55,1137.4 240.91,1137.43 255.28,1137.46 269.64,1137.5 284.01,1137.55 298.37,1137.62 312.74,1137.7 327.1,1137.8 341.46,1137.93 355.83,1138.1 370.19,1138.31 384.56,1138.57 398.92,1138.91 413.29,1139.33 427.65,1139.86 442.01,1140.54 456.38,1141.4 470.74,1142.48 485.11,1143.85 499.47,1144.17 513.84,1144.57 528.2,1145.08 542.56,1145.72 556.93,1146.75 571.29,1148.06 585.66,1149.71 600.02,1151.79 614.39,1154.41 628.75,1157.71 643.11,1164.66 657.48,1173.45 671.84,1181.24 686.21,1182.64 700.57,1170.8 714.94,1138.24 729.3,1138.24 743.66,1138.24 758.03,1138.24 772.39,1138.24 786.76,1138.24 801.12,1138.24 815.49,1138.24 829.85,1138.24" stroke="#1f77b4"/>
<polyline points="126,1238.82 140.36,1238.81 154.73,1238.79 169.09,1238.77 183.46,1238.74 197.82,1238.7 212.19,1238.66 226.55,1238.6 240.91,1238.53 255.28,1238.44 269.64,1238.33 284.01,1238.19 298.37,1238 312.74,1237.78 327.1,1237.48 341.46,1237.12 355.83,1236.65 370.19,1236.07 384.56,1235.32 398.92,1234.38 413.29,1233.19 427.65,1231.69 442.01,1229.79 456.38,1227.38 470.74,1224.34 485.11,1220.49 499.47,1219.3 513.84,1217.79 528.2,1215.89 542.56,1213.48 556.93,1210.62 571.29,1207.01 585.66,1202.44 600.02,1196.66 614.39,1188.95 628.75,1179.21 643.11,1162.77 657.48,1141.98 671.84,1138.24 686.21,1138.24 700.57,1138.24 714.94,1138.24 729.3,1138.24 743.66,1138.24 758.03,1138.24 772.39,1138.24 786.76,1138.24 801.12,1138.24 815.49,1138.24 829.85,1138.24" stroke="#ff7f0e"/>
<polyline points="126,938.87 140.36,938.87 154.73,938.87 169.09,938.88 183.46,938.88 197.82,938.89 212.19,938.9 226.55,938.91 240.91,938.93 255.28,938.95 269.64,938.97 284.01,939 298.37,939.04 312.74,939.09 327.1,939.15 341.46,939.23 355.83,939.33 370.19,939.45 384.56,939.61 398.92,939.81 413.29,940.06 427.65,940.38 442.01,940.78 456.38,941.29 470.74,941.93 485.11,942.75 499.47,944.28 513.84,946.22 528.2,948.68 542.56,951.78 556.93,955.01 571.29,959.09 585.66,964.26 600.02,970.79 614.39,979.94 628.75,991.51 643.11,1003.47 657.48,1018.61 671.84,1039.64 686.21,1059.58 700.57,1078.43 714.94,1096.18 729.3,1138.24 743.66,1138.24 758.03,1138.24 772.39,1138.24 786.76,1138.24 801.12,1138.24 815.49,1138.24 829.85,1138.24" stroke="#2ca02c"/>
<polyline points="126,1177.83 140.36,1177.83 154.73,1177.84 169.09,1177.85 183.46,1177.86 197.82,1177.87 212.19,1177.89 226.55,1177.91 240.91,1177.94 255.28,1177.97 269.64,1178.02 284.01,1178.07 298.37,1178.14 312.74,1178.23 327.1,1178.34 341.46,1178.48 355.83,1178.65 370.19,1178.88 384.56,1179.16 398.92,1179.52 413.29,1179.97 427.65,1180.55 442.01,1181.27 456.38,1182.19 470.74,1183.35 485.11,1184.82 499.47,1185.16 513.84,1185.6 528.2,1186.15 542.56,1186.84 556.93,1187.58 571.29,1188.52 585.66,1189.71 600.02,1191.21 614.39,1192.37 628.75,1193.85 643.11,1195.02 657.48,1196.5 671.84,1190.11 686.21,1175 700.57,1151.95 714.94,1138.24 729.3,1138.24 743.66,1138.24 758.03,1138.24 772.39,1138.24 786.76,1138.24 801.12,1138.24 815.49,1138.24 829.85,1138.24" stroke="#d62728"/>
<polyline points="126,1004.76 140.36,1004.76 154.73,1004.77 169.09,1004.77 183.46,1004.78 197.82,1004.79 212.19,1004.8 226.55,1004.82 240.91,1004.84 255.28,1004.86 269.64,1004.89 284.01,1004.93 298.37,1004.97 312.74,1005.03 327.1,1005.11 341.46,1005.21 355.83,1005.33 370.19,1005.48 384.56,1005.68 398.92,1005.93 413.29,1006.24 427.65,1006.63 442.01,1007.13 456.38,1007.77 470.74,1008.56 485.11,1009.58 499.47,1010.16 513.84,1010.89 528.2,1011.82 542.56,1013 556.93,1014.06 571.29,1015.4 585.66,1017.09 600.02,1019.23 614.39,1022.67 628.75,1027.02 643.11,1033.49 657.48,1041.66 671.84,1052.26 686.21,1082.17 700.57,1131.23 714.94,1138.24 729.3,1138.24 743.66,1138.24 758.03,1138.24 772.39,1138.24 786.76,1138.24 801.12,1138.24 815.49,1138.24 829.85,1138.24" stroke="#9467bd"/>
<polyline points="126,1013.03 140.36,1013.04 154.73,1013.05 169.09,1013.07 183.46,1013.08 197.82,1013.1 212.19,1013.13 226.55,1013.17 240.91,1013.21 255.28,1013.26 269.64,1013.33 284.01,1013.42 298.37,1013.53 312.74,1013.67 327.1,1013.85 341.46,1014.07 355.83,1014.36 370.19,1014.71 384.56,1015.17 398.92,1015.74 413.29,1016.47 427.65,1017.38 442.01,1018.55 456.38,1020.01 470.74,1021.87 485.11,1024.22 499.47,1026.23 513.84,1028.77 528.2,1031.99 542.56,1036.06 556.93,1039.68 571.29,1044.27 585.66,1050.06 600.02,1057.4 614.39,1061.8 628.75,1067.37 643.11,1076.51 657.48,1088.08 671.84,1100.23 686.21,1124.85 700.57,1138.24 714.94,1138.24 729.3,1138.24 743.66,1138.24 758.03,1138.24 772.39,1138.24 786.76,1138.24 801.12,1138.24 815.49,1138.24 829.85,1138.24" stroke="#8c564b"/>
<polyline points="126,811.48 140.36,811.5 154.73,811.51 169.09,811.53 183.46,811.56 197.82,811.59 212.19,811.64 226.55,811.69 240.91,811.76 255.28,811.84 269.64,811.95 284.01,812.08 298.37,812.26 312.74,812.47 327.1,812.75 341.46,813.1 355.83,813.54 370.19,814.1 384.56,814.8 398.92,815.69 413.29,816.82 427.65,818.25 442.01,820.06 456.38,822.34 470.74,825.23 485.11,828.88 499.47,831.74 513.84,835.35 528.2,839.92 542.56,845.7 556.93,851.74 571.29,859.36 585.66,869.01 600.02,881.22 614.39,895.8 628.75,914.24 643.11,941.62 657.48,976.24 671.84,1016.59 686.21,1060.51 700.57,1104.6 714.94,1138.24 729.3,1138.24 743.66,1138.24 758.03,1138.24 772.39,1138.24 786.76,1138.24 801.12,1138.24 815.49,1138.24 829.85,1138.24" stroke="#e377c2"/>
<polyline points="126,916.87 140.36,916.87 154.73,916.86 169.09,916.86 183.46,916.85 197.82,916.84 212.19,916.82 226.55,916.8 240.91,916.78 255.28,916.75 269.64,916.71 284.01,916.67 298.37,916.61 312.74,916.53 327.1,916.43 341.46,916.31 355.83,916.16 370.19,915.96 384.56,915.72 398.92,915.41 413.29,915.02 427.65,914.52 442.01,913.89 456.38,913.09 470.74,912.09 485.11,910.82 499.47,912.03 513.84,913.57 528.2,915.52 542.56,917.98 556.93,919.94 571.29,922.42 585.66,925.55 600.02,929.51 614.39,934.53 628.75,940.88 643.11,948.51 657.48,958.17 671.84,973.59 686.21,991.51 700.57,1016.59 714.94,1055.37 729.3,1117.06 743.66,1138.24 758.03,1138.24 772.39,1138.24 786.76,1138.24 801.12,1138.24 815.49,1138.24 829.85,1138.24" stroke="#7f7f7f"/>
<polyline points="126,951.92 140.36,951.92 154.73,951.91 169.09,951.91 183.46,951.9 197.82,951.89 212.19,951.87 226.55,951.86 240.91,951.83 255.28,951.81 269.64,951.77 284.01,951.73 298.37,951.67 312.74,951.6 327.1,951.51 341.46,951.39 355.83,951.24 370.19,951.06 384.56,950.83 398.92,950.53 413.29,950.16 427.65,949.69 442.01,949.09 456.38,948.34 470.74,947.38 485.11,946.18 499.47,948.19 513.84,950.73 528.2,953.95 542.56,958.02 556.93,962.7 571.29,968.62 585.66,976.11 600.02,985.59 614.39,997.42 628.75,1012.38 643.11,1027.17 657.48,1045.87 671.84,1075.16 686.21,1107.87 700.57,1138.24 714.94,1138.24 729.3,1138.24 743.66,1138.24 758.03,1138.24 772.39,1138.24 786.76,1138.24 801.12,1138.24 815.49,1138.24 829.85,1138.24" stroke="#bcbd22"/>
<polyline points="126,1151.6 140.36,1151.59 154.73,1151.57 169.09,1151.56 183.46,1151.54 197.82,1151.51 212.19,1151.47 226.55,1151.43 240.91,1151.38 255.28,1151.31 269.64,1151.22 284.01,1151.11 298.37,1150.97 312.74,1150.79 327.1,1150.56 341.46,1150.28 355.83,1149.92 370.19,1149.46 384.56,1148.65 398.92,1147.63 413.29,1146.34 427.65,1144.83 442.01,1142.92 456.38,1140.99 470.74,1138.55 485.11,1138.24 499.47,1138.24 513.84,1138.24 528.2,1138.24 542.56,1138.24 556.93,1138.24 571.29,1138.24 585.66,1138.24 600.02,1138.24 614.39,1136.69 628.75,1131.08 643.11,1124.69 657.48,1122.67 671.84,1130.45 686.21,1138.24 700.57,1138.24 714.94,1138.24 729.3,1138.24 743.66,1138.24 758.03,1138.24 772.39,1138.24 786.76,1138.24 801.12,1138.24 815.49,1138.24 829.85,1138.24" stroke="#17becf"/>
<polyline points="126,1170.94 140.36,1170.94 154.73,1170.94 169.09,1170.93 183.46,1170.93 197.82,1170.92 212.19,1170.91 226.55,1170.9 240.91,1170.89 255.28,1170.87 269.64,1170.85 284.01,1170.82 298.37,1170.79 312.74,1170.74 327.1,1170.68 341.46,1170.61 355.83,1170.52 370.19,1170.41 384.56,1170.26 398.92,1170.08 413.29,1169.85 427.65,1169.56 442.01,1169.18 456.38,1168.72 470.74,1168.12 485.11,1167.37 499.47,1166.9 513.84,1166.29 528.2,1165.53 542.56,1164.57 556.93,1163.85 571.29,1162.95 585.66,1161.81 600.02,1160.36 614.39,1158.51 628.75,1156.16 643.11,1151.07 657.48,1144.63 671.84,1138.24 686.21,1138.24 700.57,1138.24 714.94,1138.24 729.3,1138.24 743.66,1138.24 758.03,1138.24 772.39,1138.24 786.76,1138.24 801.12,1138.24 815.49,1138.24 829.85,1138.24" stroke="#1f77b4"/>
<polyline points="126,1246.13 140.36,1246.12 154.73,1246.1 169.09,1246.07 183.46,1246.04 197.82,1246 212.19,1245.94 226.55,1245.88 240.91,1245.8 255.28,1245.69 269.64,1245.56 284.01,1245.39 298.37,1245.18 312.74,1244.91 327.1,1244.57 341.46,1244.14 355.83,1243.6 370.19,1242.91 384.56,1242.04 398.92,1240.94 413.29,1239.55 427.65,1237.79 442.01,1235.57 456.38,1232.76 470.74,1229.2 485.11,1224.7 499.47,1223.16 513.84,1221.22 528.2,1218.77 542.56,1215.66 556.93,1212.78 571.29,1209.13 585.66,1204.52 600.02,1198.68 614.39,1190.57 628.75,1180.3 643.11,1164.07 657.48,1143.54 671.84,1138.24 686.21,1138.24 700.57,1138.24 714.94,1138.24 729.3,1138.24 743.66,1138.24 758.03,1138.24 772.39,1138.24 786.76,1138.24 801.12,1138.24 815.49,1138.24 829.85,1138.24" stroke="#ff7f0e"/>
<polyline points="126,945.89 140.36,945.89 154.73,945.9 169.09,945.91 183.46,945.92 197.82,945.93 212.19,945.95 226.55,945.97 240.91,946 255.28,946.04 269.64,946.08 284.01,946.14 298.37,946.21 312.74,946.3 327.1,946.42 341.46,946.56 355.83,946.75 370.19,946.98 384.56,947.28 398.92,947.65 413.29,948.13 427.65,948.73 442.01,949.48 456.38,950.44 470.74,951.65 485.11,953.19 499.47,954.61 513.84,956.42 528.2,958.71 542.56,961.6 556.93,964.8 571.29,968.85 585.66,973.97 600.02,980.45 614.39,989.94 628.75,1001.94 643.11,1015.35 657.48,1032.32 671.84,1045.87 686.21,1059.58 700.57,1078.43 714.94,1096.18 729.3,1138.24 743.66,1138.24 758.03,1138.24 772.39,1138.24 786.76,1138.24 801.12,1138.24 815.49,1138.24 829.85,1138.24" stroke="#2ca02c"/>
<polyline points="126,1185.6 140.36,1185.6 154.73,1185.6 169.09,1185.6 183.46,1185.6 197.82,1185.6 212.19,1185.6 226.55,1185.6 240.91,1185.59 255.28,1185.59 269.64,1185.59 284.01,1185.59 298.37,1185.59 312.74,1185.59 327.1,1185.59 341.46,1185.58 355.83,1185.58 370.19,1185.57 384.56,1185.57 398.92,1185.56 413.29,1185.55 427.65,1185.54 442.01,1185.52 456.38,1185.5 470.74,1185.47 485.11,1185.44 499.47,1184.86 513.84,1184.12 528.2,1183.19 542.56,1182.01 556.93,1179.87 571.29,1177.16 585.66,1173.73 600.02,1169.4 614.39,1164.45 628.75,1158.18 643.11,1151.24 657.48,1142.45 671.84,1138.24 686.21,1138.24 700.57,1138.24 714.94,1138.24 729.3,1138.24 743.66,1138.24 758.03,1138.24 772.39,1138.24 786.76,1138.24 801.12,1138.24 815.49,1138.24 829.85,1138.24" stroke="#d62728"/>
<polyline points="126,1194.31 140.36,1194.3 154.73,1194.3 169.09,1194.29 183.46,1194.29 197.82,1194.28 212.19,1194.27 226.55,1194.25 240.91,1194.23 255.28,1194.21 269.64,1194.18 284.01,1194.15 298.37,1194.1 312.74,1194.04 327.1,1193.97 341.46,1193.87 355.83,1193.76 370.19,1193.61 384.56,1193.42 398.92,1193.18 413.29,1192.88 427.65,1192.49 442.01,1192.01 456.38,1191.4 470.74,1190.63 485.11,1189.65 499.47,1189.07 513.84,1188.33 528.2,1187.4 542.56,1186.22 556.93,1184.16 571.29,1181.55 585.66,1178.25 600.02,1174.07 614.39,1167.54 628.75,1159.27 643.11,1151.36 657.48,1141.36 671.84,1138.24 686.21,1138.24 700.57,1138.24 714.94,1138.24 729.3,1138.24 743.66,1138.24 758.03,1138.24 772.39,1138.24 786.76,1138.24 801.12,1138.24 815.49,1138.24 829.85,1138.24" stroke="#9467bd"/>
<polyline points="126,1032.66 140.36,1032.67 154.73,1032.68 169.09,1032.69 183.46,1032.71 197.82,1032.73 212.19,1032.76 226.55,1032.79 240.91,1032.84 255.28,1032.89 269.64,1032.96 284.01,1033.05 298.37,1033.16 312.74,1033.3 327.1,1033.48 341.46,1033.7 355.83,1033.98 370.19,1034.34 384.56,1034.8 398.92,1035.37 413.29,1036.09 427.65,1037.01 442.01,1038.17 456.38,1039.64 470.74,1041.5 485.11,1043.85 499.47,1045.06 513.84,1046.6 528.2,1048.55 542.56,1051.01 556.93,1052.86 571.29,1055.2 585.66,1058.17 600.02,1061.91 614.39,1070.86 628.75,1082.17 643.11,1098.67 657.48,1119.55 671.84,1132.01 686.21,1138.24 700.57,1138.24 714.94,1138.24 729.3,1138.24 743.66,1138.24 758.03,1138.24 772.39,1138.24 786.76,1138.24 801.12,1138.24 815.49,1138.24 829.85,1138.24" stroke="#8c564b"/>
<polyline points="126,1035.16 140.36,1035.17 154.73,1035.18 169.09,1035.19 183.46,1035.21 197.82,1035.23 212.19,1035.26 226.55,1035.3 240.91,1035.35 255.28,1035.41 269.64,1035.48 284.01,1035.58 298.37,1035.7 312.74,1035.85 327.1,1036.04 341.46,1036.28 355.83,1036.59 370.19,1036.98 384.56,1037.47 398.92,1038.09 413.29,1038.88 427.65,1039.87 442.01,1041.13 456.38,1042.72 470.74,1044.73 485.11,1047.27 499.47,1048.57 513.84,1050.21 528.2,1052.28 542.56,1054.91 556.93,1058.48 571.29,1062.99 585.66,1068.71 600.02,1075.93 614.39,1085.15 628.75,1096.81 643.11,1114.41 657.48,1136.69 671.84,1138.24 686.21,1138.24 700.57,1138.24 714.94,1138.24 729.3,1138.24 743.66,1138.24 758.03,1138.24 772.39,1138.24 786.76,1138.24 801.12,1138.24 815.49,1138.24 829.85,1138.24" stroke="#e377c2"/>
<polyline points="126,980.8 140.36,980.82 154.73,980.83 169.09,980.85 183.46,980.87 197.82,980.9 212.19,980.94 226.55,980.99 240.91,981.05 255.28,981.13 269.64,981.23 284.01,981.36 298.37,981.51 312.74,981.71 327.1,981.97 341.46,982.29 355.83,982.69 370.19,983.21 384.56,983.86 398.92,984.68 413.29,985.71 427.65,987.03 442.01,988.69 456.38,990.79 470.74,993.44 485.11,996.8 499.47,997.33 513.84,998 528.2,998.85 542.56,999.92 556.93,1001.24 571.29,1002.91 585.66,1005.03 600.02,1007.71 614.39,1010.8 628.75,1014.72 643.11,1024.34 657.48,1036.52 671.84,1043.85 686.21,1073.13 700.57,1106.62 714.94,1128.59 729.3,1138.24 743.66,1138.24 758.03,1138.24 772.39,1138.24 786.76,1138.24 801.12,1138.24 815.49,1138.24 829.85,1138.24" stroke="#7f7f7f"/>
<polyline points="126,1086.36 140.36,1086.36 154.73,1086.36 169.09,1086.36 183.46,1086.35 197.82,1086.35 212.19,1086.34 226.55,1086.33 240.91,1086.32 255.28,1086.31 269.64,1086.29 284.01,1086.27 298.37,1086.24 312.74,1086.2 327.1,1086.16 341.46,1086.1 355.83,1086.03 370.19,1085.94 384.56,1085.83 398.92,1085.69 413.29,1085.5 427.65,1085.28 442.01,1084.99 456.38,1084.62 470.74,1084.15 485.11,1083.57 499.47,1084.39 513.84,1085.42 528.2,1086.74 542.56,1088.4 556.93,1090.78 571.29,1093.79 585.66,1097.6 600.02,1102.42 614.39,1108.74 628.75,1116.75 643.11,1124.17 657.48,1133.57 671.84,1138.24 686.21,1138.24 700.57,1138.24 714.94,1138.24 729.3,1138.24 743.66,1138.24 758.03,1138.24 772.39,1138.24 786.76,1138.24 801.12,1138.24 815.49,1138.24 829.85,1138.24" stroke="#bcbd22"/>
<polyline points="126,1076.25 140.36,1076.26 154.73,1076.26 169.09,1076.26 183.46,1076.27 197.82,1076.27 212.19,1076.28 226.55,1076.29 240.91,1076.3 255.28,1076.32 269.64,1076.34 284.01,1076.36 298.37,1076.39 312.74,1076.43 327.1,1076.48 341.46,1076.54 355.83,1076.62 370.19,1076.72 384.56,1076.85 398.92,1077.01 413.29,1077.21 427.65,1077.46 442.01,1077.79 456.38,1078.19 470.74,1078.71 485.11,1079.36 499.47,1079.97 513.84,1080.74 528.2,1081.71 542.56,1082.94 556.93,1084.13 571.29,1085.64 585.66,1087.54 600.02,1089.95 614.39,1094.08 628.75,1099.3 643.11,1105.49 657.48,1113.32 671.84,1129.21 686.21,1138.24 700.57,1138.24 714.94,1138.24 729.3,1138.24 743.66,1138.24 758.03,1138.24 772.39,1138.24 786.76,1138.24 801.12,1138.24 815.49,1138.24 829.85,1138.24" stroke="#17becf"/>
<polyline points="126,1023.34 140.36,1023.35 154.73,1023.37 169.09,1023.39 183.46,1023.42 197.82,1023.45 212.19,1023.5 226.55,1023.55 240.91,1023.62 255.28,1023.71 269.64,1023.83 284.01,1023.97 298.37,1024.15 312.74,1024.38 327.1,1024.67 341.46,1025.04 355.83,1025.5 370.19,1026.09 384.56,1026.83 398.92,1027.77 413.29,1028.96 427.65,1030.46 442.01,1032.37 456.38,1034.77 470.74,1037.82 485.11,1041.66 499.47,1043.2 513.84,1045.14 528.2,1047.59 542.56,1050.7 556.93,1053.79 571.29,1057.71 585.66,1062.66 600.02,1068.92 614.39,1077.52 628.75,1088.4 643.11,1106.28 657.48,1128.9 671.84,1135.13 686.21,1138.24 700.57,1138.24 714.94,1138.24 729.3,1138.24 743.66,1138.24 758.03,1138.24 772.39,1138.24 786.76,1138.24 801.12,1138.24 815.49,1138.24 829.85,1138.24" stroke="#1f77b4"/>
<polyline points="126,1294.61 140.36,1294.61 154.73,1294.6 169.09,1294.59 183.46,1294.58 197.82,1294.56 212.19,1294.54 226.55,1294.51 240.91,1294.48 255.28,1294.44 269.64,1294.39 284.01,1294.32 298.37,1294.24 312.74,1294.14 327.1,1294 341.46,1293.83 355.83,1293.62 370.19,1293.35 384.56,1293.01 398.92,1292.58 413.29,1292.04 427.65,1291.35 442.01,1290.48 456.38,1289.38 470.74,1287.99 485.11,1286.23 499.47,1284.8 513.84,1282.99 528.2,1280.7 542.56,1277.81 556.93,1275.54 571.29,1272.66 585.66,1269.02 600.02,1264.42 614.39,1257.26 628.75,1248.22 643.11,1237.63 657.48,1224.23 671.84,1205.38 686.21,1173.91 700.57,1138.24 714.94,1138.24 729.3,1138.24 743.66,1138.24 758.03,1138.24 772.39,1138.24 786.76,1138.24 801.12,1138.24 815.49,1138.24 829.85,1138.24" stroke="#ff7f0e"/>
<polyline points="126,1201.03 140.36,1201.04 154.73,1201.04 169.09,1201.05 183.46,1201.06 197.82,1201.07 212.19,1201.08 226.55,1201.1 240.91,1201.12 255.28,1201.15 269.64,1201.18 284.01,1201.22 298.37,1201.28 312.74,1201.34 327.1,1201.43 341.46,1201.54 355.83,1201.68 370.19,1201.85 384.56,1202.07 398.92,1202.35 413.29,1202.7 427.65,1203.15 442.01,1203.71 456.38,1204.43 470.74,1205.33 485.11,1206.47 499.47,1206.58 513.84,1206.71 528.2,1206.88 542.56,1207.09 556.93,1207.28 571.29,1207.51 585.66,1207.81 600.02,1208.18 614.39,1208.8 628.75,1209.59 643.11,1211.17 657.48,1213.17 671.84,1194.94 686.21,1175 700.57,1150.86 714.94,1138.24 729.3,1138.24 743.66,1138.24 758.03,1138.24 772.39,1138.24 786.76,1138.24 801.12,1138.24 815.49,1138.24 829.85,1138.24" stroke="#2ca02c"/>
<polyline points="126,1090.27 140.36,1090.27 154.73,1090.27 169.09,1090.27 183.46,1090.27 197.82,1090.27 212.19,1090.27 226.55,1090.27 240.91,1090.27 255.28,1090.27 269.64,1090.27 284.01,1090.27 298.37,1090.27 312.74,1090.27 327.1,1090.27 341.46,1090.27 355.83,1090.27 370.19,1090.27 384.56,1090.27 398.92,1090.27 413.29,1090.27 427.65,1090.27 442.01,1090.27 456.38,1090.27 470.74,1090.27 485.11,1090.27 499.47,1091.03 513.84,1092 528.2,1093.23 542.56,1094.78 556.93,1095.95 571.29,1097.42 585.66,1099.28 600.02,1101.64 614.39,1104.04 628.75,1107.09 643.11,1110.87 657.48,1115.66 671.84,1126.09 686.21,1138.24 700.57,1138.24 714.94,1138.24 729.3,1138.24 743.66,1138.24 758.03,1138.24 772.39,1138.24 786.76,1138.24 801.12,1138.24 815.49,1138.24 829.85,1138.24" stroke="#d62728"/>
<polyline points="126,1379.53 140.36,1379.54 154.73,1379.54 169.09,1379.54 183.46,1379.54 197.82,1379.54 212.19,1379.54 226.55,1379.54 240.91,1379.55 255.28,1379.55 269.64,1379.56 284.01,1379.56 298.37,1379.57 312.74,1379.58 327.1,1379.59 341.46,1379.61 355.83,1379.63 370.19,1379.65 384.56,1379.68 398.92,1379.72 413.29,1379.77 427.65,1379.84 442.01,1379.92 456.38,1380.02 470.74,1380.15 485.11,1380.31 499.47,1379.25 513.84,1377.92 528.2,1376.22 542.56,1374.08 556.93,1371.41 571.29,1368.03 585.66,1363.75 600.02,1358.35 614.39,1350.99 628.75,1341.68 643.11,1330.54 657.48,1316.45 671.84,1300.71 686.21,1285.45 700.57,1261.3 714.94,1202.11 729.3,1138.24 743.66,1138.24 758.03,1138.24 772.39,1138.24 786.76,1138.24 801.12,1138.24 815.49,1138.24 829.85,1138.24" stroke="#9467bd"/>
<polyline points="126,1105.79 140.36,1105.82 154.73,1105.86 169.09,1105.9 183.46,1105.96 197.82,1106.03 212.19,1106.12 226.55,1106.24 240.91,1106.38 255.28,1106.57 269.64,1106.8 284.01,1107.09 298.37,1107.47 312.74,1107.94 327.1,1108.53 341.46,1109.29 355.83,1110.24 370.19,1111.45 384.56,1112.54 398.92,1113.91 413.29,1115.66 427.65,1119.99 442.01,1125.47 456.38,1130.77 470.74,1135.28 485.11,1138.24 499.47,1138.24 513.84,1138.24 528.2,1138.24 542.56,1138.24 556.93,1138.24 571.29,1138.24 585.66,1138.24 600.02,1138.24 614.39,1138.24 628.75,1138.24 643.11,1147.9 657.48,1156.16 671.84,1160.83 686.21,1172.82 700.57,1169.24 714.94,1138.24 729.3,1138.24 743.66,1138.24 758.03,1138.24 772.39,1138.24 786.76,1138.24 801.12,1138.24 815.49,1138.24 829.85,1138.24" stroke="#8c564b"/>
<polyline points="126,1283.88 140.36,1283.87 154.73,1283.87 169.09,1283.86 183.46,1283.86 197.82,1283.85 212.19,1283.84 226.55,1283.82 240.91,1283.81 255.28,1283.78 269.64,1283.76 284.01,1283.72 298.37,1283.68 312.74,1283.62 327.1,1283.55 341.46,1283.46 355.83,1283.34 370.19,1283.2 384.56,1283.02 398.92,1282.79 413.29,1282.49 427.65,1282.12 442.01,1281.66 456.38,1281.07 470.74,1280.32 485.11,1279.37 499.47,1279.21 513.84,1279.01 528.2,1278.76 542.56,1278.44 556.93,1278.33 571.29,1278.2 585.66,1278.03 600.02,1277.81 614.39,1276.99 628.75,1275.94 643.11,1273.61 657.48,1270.65 671.84,1268.16 686.21,1264.42 700.57,1255.07 714.94,1224.23 729.3,1157.09 743.66,1138.24 758.03,1138.24 772.39,1138.24 786.76,1138.24 801.12,1138.24 815.49,1138.24 829.85,1138.24" stroke="#e377c2"/>
<polyline points="126,1025.82 140.36,1025.84 154.73,1025.85 169.09,1025.87 183.46,1025.9 197.82,1025.93 212.19,1025.97 226.55,1026.02 240.91,1026.08 255.28,1026.16 269.64,1026.27 284.01,1026.4 298.37,1026.56 312.74,1026.77 327.1,1027.03 341.46,1027.37 355.83,1027.79 370.19,1028.32 384.56,1028.99 398.92,1029.85 413.29,1030.92 427.65,1032.29 442.01,1034.01 456.38,1036.19 470.74,1038.95 485.11,1042.44 499.47,1043.63 513.84,1045.14 528.2,1047.04 542.56,1049.45 556.93,1051.44 571.29,1053.95 585.66,1057.12 600.02,1061.14 614.39,1069.32 628.75,1079.67 643.11,1093.84 657.48,1111.76 671.84,1119.55 686.21,1138.24 700.57,1138.24 714.94,1138.24 729.3,1138.24 743.66,1138.24 758.03,1138.24 772.39,1138.24 786.76,1138.24 801.12,1138.24 815.49,1138.24 829.85,1138.24" stroke="#7f7f7f"/>
<polyline points="126,1232.82 140.36,1232.83 154.73,1232.84 169.09,1232.85 183.46,1232.86 197.82,1232.88 212.19,1232.9 226.55,1232.93 240.91,1232.97 255.28,1233.01 269.64,1233.07 284.01,1233.14 298.37,1233.24 312.74,1233.35 327.1,1233.5 341.46,1233.69 355.83,1233.92 370.19,1234.22 384.56,1234.6 398.92,1235.08 413.29,1235.68 427.65,1236.45 442.01,1237.41 456.38,1238.64 470.74,1240.19 485.11,1242.14 499.47,1240.71 513.84,1238.91 528.2,1236.62 542.56,1233.73 556.93,1230.34 571.29,1226.06 585.66,1220.64 600.02,1213.79 614.39,1204.51 628.75,1192.76 643.11,1182.17 657.48,1168.77 671.84,1144.63 686.21,1138.24 700.57,1138.24 714.94,1138.24 729.3,1138.24 743.66,1138.24 758.03,1138.24 772.39,1138.24 786.76,1138.24 801.12,1138.24 815.49,1138.24 829.85,1138.24" stroke="#bcbd22"/>
<polyline points="126,958.05 140.36,958.06 154.73,958.07 169.09,958.09 183.46,958.11 197.82,958.13 212.19,958.16 226.55,958.2 240.91,958.25 255.28,958.31 269.64,958.39 284.01,958.49 298.37,958.61 312.74,958.77 327.1,958.97 341.46,959.22 355.83,959.54 370.19,959.94 384.56,960.45 398.92,961.1 413.29,961.91 427.65,962.94 442.01,964.25 456.38,965.9 470.74,967.99 485.11,970.63 499.47,973.23 513.84,976.5 528.2,980.65 542.56,985.9 556.93,991.74 571.29,999.14 585.66,1008.49 600.02,1020.32 614.39,1038.07 628.75,1060.51 643.11,1083.14 657.48,1111.76 671.84,1129.68 686.21,1138.24 700.57,1138.24 714.94,1138.24 729.3,1138.24 743.66,1138.24 758.03,1138.24 772.39,1138.24 786.76,1138.24 801.12,1138.24 815.49,1138.24 829.85,1138.24" stroke="#17becf"/>
<polyline points="126,1190.55 140.36,1190.54 154.73,1190.53 169.09,1190.52 183.46,1190.5 197.82,1190.48 212.19,1190.45 226.55,1190.42 240.91,1190.37 255.28,1190.32 269.64,1190.25 284.01,1190.16 298.37,1190.05 312.74,1189.9 327.1,1189.72 341.46,1189.5 355.83,1189.21 370.19,1188.85 384.56,1188.39 398.92,1187.81 413.29,1187.07 427.65,1186.14 442.01,1184.96 456.38,1183.47 470.74,1181.59 485.11,1179.21 499.47,1178.73 513.84,1178.13 528.2,1177.37 542.56,1176.41 556.93,1175.35 571.29,1174.01 585.66,1172.32 600.02,1170.18 614.39,1166.26 628.75,1161.3 643.11,1153.46 657.48,1143.54 671.84,1138.24 686.21,1138.24 700.57,1138.24 714.94,1138.24 729.3,1138.24 743.66,1138.24 758.03,1138.24 772.39,1138.24 786.76,1138.24 801.12,1138.24 815.49,1138.24 829.85,1138.24" stroke="#1f77b4"/>
<polyline points="126,1286.22 140.36,1286.22 154.73,1286.22 169.09,1286.21 183.46,1286.21 197.82,1286.21 212.19,1286.2 226.55,1286.19 240.91,1286.19 255.28,1286.17 269.64,1286.16 284.01,1286.14 298.37,1286.12 312.74,1286.1 327.1,1286.06 341.46,1286.02 355.83,1285.96 370.19,1285.89 384.56,1285.8 398.92,1285.69 413.29,1285.55 427.65,1285.37 442.01,1285.15 456.38,1284.86 470.74,1284.5 485.11,1284.04 499.47,1282.03 513.84,1279.49 528.2,1276.27 542.56,1272.21 556.93,1266.28 571.29,1258.79 585.66,1249.3 600.02,1237.31 614.39,1221.77 628.75,1202.11 643.11,1182.23 657.48,1157.09 671.84,1138.24 686.21,1138.24 700.57,1138.24 714.94,1138.24 729.3,1138.24 743.66,1138.24 758.03,1138.24 772.39,1138.24 786.76,1138.24 801.12,1138.24 815.49,1138.24 829.85,1138.24" stroke="#ff7f0e"/>
<line x1="657.48" y1="1409.8" x2="657.48" y2="783" stroke="#a00a0f" stroke-width="2.6" stroke-dasharray="11.4 4.95" stroke-linecap="butt" fill="none"/>
</g>
<rect x="91.4" y="783" width="773.5" height="626.8" fill="none" stroke="#000" stroke-width="1.75" stroke-linejoin="miter"/>
<path d="M126 1409.8v7.6M266.77 1409.8v7.6M407.54 1409.8v7.6M548.31 1409.8v7.6M689.08 1409.8v7.6M829.85 1409.8v7.6M91.4 826.7h-7.6M91.4 904.59h-7.6M91.4 982.47h-7.6M91.4 1060.36h-7.6M91.4 1138.24h-7.6M91.4 1216.13h-7.6M91.4 1294.01h-7.6M91.4 1371.9h-7.6" stroke="#000" stroke-width="1.75" fill="none"/>
<text x="124.2" y="1439.6" text-anchor="middle" class="t">−3</text>
<text x="264.97" y="1439.6" text-anchor="middle" class="t">−2</text>
<text x="405.74" y="1439.6" text-anchor="middle" class="t">−1</text>
<text x="548.71" y="1439.6" text-anchor="middle" class="t">0</text>
<text x="689.48" y="1439.6" text-anchor="middle" class="t">1</text>
<text x="830.25" y="1439.6" text-anchor="middle" class="t">2</text>
<text x="76.8" y="834.3" text-anchor="end" class="t">20</text>
<text x="76.8" y="912.19" text-anchor="end" class="t">15</text>
<text x="76.8" y="990.07" text-anchor="end" class="t">10</text>
<text x="76.8" y="1067.96" text-anchor="end" class="t">5</text>
<text x="76.8" y="1145.84" text-anchor="end" class="t">0</text>
<text x="76.8" y="1223.73" text-anchor="end" class="t">−5</text>
<text x="76.8" y="1301.61" text-anchor="end" class="t">−10</text>
<text x="76.8" y="1379.5" text-anchor="end" class="t">−15</text>
<text x="476.15" y="770" text-anchor="middle" class="ti">LASSO for T2-W</text>
<text x="476.15" y="1469.1" text-anchor="middle" class="t">log(Alpha)</text>
<text transform="translate(16.4 1096.4) rotate(-90)" text-anchor="middle" class="yl">LASSO Coefficients</text>
<clipPath id="c1b"><rect x="996.35" y="783" width="773.45" height="626.8"/></clipPath>
<g clip-path="url(#c1b)" fill="none">
<path d="M1030.3 1380.32V811.38M1044.67 1380.31V811.39M1059.05 1380.31V811.41M1073.42 1380.3V811.43M1087.79 1380.29V811.46M1102.17 1380.28V811.5M1116.54 1380.27V811.54M1130.91 1380.26V811.6M1145.29 1380.24V811.67M1159.66 1380.21V811.76M1174.03 1380.18V811.87M1188.41 1380.14V812.01M1202.78 1380.09V812.19M1217.16 1380.03V812.42M1231.53 1379.95V812.71M1245.9 1379.85V813.07M1260.28 1379.73V813.53M1274.65 1379.58V814.11M1289.02 1379.33V814.8M1303.4 1379.03V815.67M1317.77 1378.65V816.76M1332.14 1378.35V818.27M1346.52 1377.99V820.15M1360.89 1377.5V822.43M1375.26 1376.74V825.14M1389.64 1375.84V828.51M1404.01 1374.3V831.68M1418.38 1372.36V835.68M1432.76 1369.92V840.73M1447.13 1366.85V847.09M1461.5 1363.27V853.66M1475.88 1358.81V861.9M1490.25 1353.26V872.23M1504.62 1346.41V885.12M1519 1337.21V901.92M1533.37 1326.01V922.24M1547.74 1314.77V947.63M1562.12 1303.58V977.02M1576.49 1289.33V1006.72M1590.87 1278.22V1044.78M1605.24 1258.39V1078.34M1619.61 1222.17V1108.73M1633.99 1177.96V1156.25M1648.36 1167.27V1167.27M1662.73 1167.27V1167.27M1677.11 1167.27V1167.27M1691.48 1167.27V1167.27M1705.85 1167.27V1167.27M1720.23 1167.27V1167.27M1734.6 1167.27V1167.27" stroke="#1a62a0" stroke-width="2.9"/>
<path d="M1020.3 811.38h20M1020.3 1380.32h20M1034.67 811.39h20M1034.67 1380.31h20M1049.05 811.41h20M1049.05 1380.31h20M1063.42 811.43h20M1063.42 1380.3h20M1077.79 811.46h20M1077.79 1380.29h20M1092.17 811.5h20M1092.17 1380.28h20M1106.54 811.54h20M1106.54 1380.27h20M1120.91 811.6h20M1120.91 1380.26h20M1135.29 811.67h20M1135.29 1380.24h20M1149.66 811.76h20M1149.66 1380.21h20M1164.03 811.87h20M1164.03 1380.18h20M1178.41 812.01h20M1178.41 1380.14h20M1192.78 812.19h20M1192.78 1380.09h20M1207.16 812.42h20M1207.16 1380.03h20M1221.53 812.71h20M1221.53 1379.95h20M1235.9 813.07h20M1235.9 1379.85h20M1250.28 813.53h20M1250.28 1379.73h20M1264.65 814.11h20M1264.65 1379.58h20M1279.02 814.8h20M1279.02 1379.33h20M1293.4 815.67h20M1293.4 1379.03h20M1307.77 816.76h20M1307.77 1378.65h20M1322.14 818.27h20M1322.14 1378.35h20M1336.52 820.15h20M1336.52 1377.99h20M1350.89 822.43h20M1350.89 1377.5h20M1365.26 825.14h20M1365.26 1376.74h20M1379.64 828.51h20M1379.64 1375.84h20M1394.01 831.68h20M1394.01 1374.3h20M1408.38 835.68h20M1408.38 1372.36h20M1422.76 840.73h20M1422.76 1369.92h20M1437.13 847.09h20M1437.13 1366.85h20M1451.5 853.66h20M1451.5 1363.27h20M1465.88 861.9h20M1465.88 1358.81h20M1480.25 872.23h20M1480.25 1353.26h20M1494.62 885.12h20M1494.62 1346.41h20M1509 901.92h20M1509 1337.21h20M1523.37 922.24h20M1523.37 1326.01h20M1537.74 947.63h20M1537.74 1314.77h20M1552.12 977.02h20M1552.12 1303.58h20M1566.49 1006.72h20M1566.49 1289.33h20M1580.87 1044.78h20M1580.87 1278.22h20M1595.24 1078.34h20M1595.24 1258.39h20M1609.61 1108.73h20M1609.61 1222.17h20M1623.99 1156.25h20M1623.99 1177.96h20M1638.36 1167.27h20M1638.36 1167.27h20M1652.73 1167.27h20M1652.73 1167.27h20M1667.11 1167.27h20M1667.11 1167.27h20M1681.48 1167.27h20M1681.48 1167.27h20M1695.85 1167.27h20M1695.85 1167.27h20M1710.23 1167.27h20M1710.23 1167.27h20M1724.6 1167.27h20M1724.6 1167.27h20" stroke="#1a62a0" stroke-width="2.0"/>
<polyline points="1030.3,1095.85 1044.67,1095.85 1059.05,1095.86 1073.42,1095.87 1087.79,1095.88 1102.17,1095.89 1116.54,1095.91 1130.91,1095.93 1145.29,1095.95 1159.66,1095.98 1174.03,1096.02 1188.41,1096.08 1202.78,1096.14 1217.16,1096.23 1231.53,1096.33 1245.9,1096.46 1260.28,1096.63 1274.65,1096.84 1289.02,1097.07 1303.4,1097.35 1317.77,1097.71 1332.14,1098.31 1346.52,1099.07 1360.89,1099.96 1375.26,1100.94 1389.64,1102.18 1404.01,1102.99 1418.38,1104.02 1432.76,1105.32 1447.13,1106.97 1461.5,1108.47 1475.88,1110.35 1490.25,1112.74 1504.62,1115.77 1519,1119.57 1533.37,1124.13 1547.74,1131.2 1562.12,1140.3 1576.49,1148.03 1590.87,1161.5 1605.24,1168.36 1619.61,1165.45 1633.99,1167.11 1648.36,1167.27 1662.73,1167.27 1677.11,1167.27 1691.48,1167.27 1705.85,1167.27 1720.23,1167.27 1734.6,1167.27" stroke="#1f77b4" stroke-width="3.0" stroke-linejoin="round"/>
<circle cx="1030.3" cy="1095.85" r="6.3" fill="#1f77b4" stroke="none"/>
<circle cx="1044.67" cy="1095.85" r="6.3" fill="#1f77b4" stroke="none"/>
<circle cx="1059.05" cy="1095.86" r="6.3" fill="#1f77b4" stroke="none"/>
<circle cx="1073.42" cy="1095.87" r="6.3" fill="#1f77b4" stroke="none"/>
<circle cx="1087.79" cy="1095.88" r="6.3" fill="#1f77b4" stroke="none"/>
<circle cx="1102.17" cy="1095.89" r="6.3" fill="#1f77b4" stroke="none"/>
<circle cx="1116.54" cy="1095.91" r="6.3" fill="#1f77b4" stroke="none"/>
<circle cx="1130.91" cy="1095.93" r="6.3" fill="#1f77b4" stroke="none"/>
<circle cx="1145.29" cy="1095.95" r="6.3" fill="#1f77b4" stroke="none"/>
<circle cx="1159.66" cy="1095.98" r="6.3" fill="#1f77b4" stroke="none"/>
<circle cx="1174.03" cy="1096.02" r="6.3" fill="#1f77b4" stroke="none"/>
<circle cx="1188.41" cy="1096.08" r="6.3" fill="#1f77b4" stroke="none"/>
<circle cx="1202.78" cy="1096.14" r="6.3" fill="#1f77b4" stroke="none"/>
<circle cx="1217.16" cy="1096.23" r="6.3" fill="#1f77b4" stroke="none"/>
<circle cx="1231.53" cy="1096.33" r="6.3" fill="#1f77b4" stroke="none"/>
<circle cx="1245.9" cy="1096.46" r="6.3" fill="#1f77b4" stroke="none"/>
<circle cx="1260.28" cy="1096.63" r="6.3" fill="#1f77b4" stroke="none"/>
<circle cx="1274.65" cy="1096.84" r="6.3" fill="#1f77b4" stroke="none"/>
<circle cx="1289.02" cy="1097.07" r="6.3" fill="#1f77b4" stroke="none"/>
<circle cx="1303.4" cy="1097.35" r="6.3" fill="#1f77b4" stroke="none"/>
<circle cx="1317.77" cy="1097.71" r="6.3" fill="#1f77b4" stroke="none"/>
<circle cx="1332.14" cy="1098.31" r="6.3" fill="#1f77b4" stroke="none"/>
<circle cx="1346.52" cy="1099.07" r="6.3" fill="#1f77b4" stroke="none"/>
<circle cx="1360.89" cy="1099.96" r="6.3" fill="#1f77b4" stroke="none"/>
<circle cx="1375.26" cy="1100.94" r="6.3" fill="#1f77b4" stroke="none"/>
<circle cx="1389.64" cy="1102.18" r="6.3" fill="#1f77b4" stroke="none"/>
<circle cx="1404.01" cy="1102.99" r="6.3" fill="#1f77b4" stroke="none"/>
<circle cx="1418.38" cy="1104.02" r="6.3" fill="#1f77b4" stroke="none"/>
<circle cx="1432.76" cy="1105.32" r="6.3" fill="#1f77b4" stroke="none"/>
<circle cx="1447.13" cy="1106.97" r="6.3" fill="#1f77b4" stroke="none"/>
<circle cx="1461.5" cy="1108.47" r="6.3" fill="#1f77b4" stroke="none"/>
<circle cx="1475.88" cy="1110.35" r="6.3" fill="#1f77b4" stroke="none"/>
<circle cx="1490.25" cy="1112.74" r="6.3" fill="#1f77b4" stroke="none"/>
<circle cx="1504.62" cy="1115.77" r="6.3" fill="#1f77b4" stroke="none"/>
<circle cx="1519" cy="1119.57" r="6.3" fill="#1f77b4" stroke="none"/>
<circle cx="1533.37" cy="1124.13" r="6.3" fill="#1f77b4" stroke="none"/>
<circle cx="1547.74" cy="1131.2" r="6.3" fill="#1f77b4" stroke="none"/>
<circle cx="1562.12" cy="1140.3" r="6.3" fill="#1f77b4" stroke="none"/>
<circle cx="1576.49" cy="1148.03" r="6.3" fill="#1f77b4" stroke="none"/>
<circle cx="1590.87" cy="1161.5" r="6.3" fill="#1f77b4" stroke="none"/>
<circle cx="1605.24" cy="1168.36" r="6.3" fill="#1f77b4" stroke="none"/>
<circle cx="1619.61" cy="1165.45" r="6.3" fill="#1f77b4" stroke="none"/>
<circle cx="1633.99" cy="1167.11" r="6.3" fill="#1f77b4" stroke="none"/>
<circle cx="1648.36" cy="1167.27" r="6.3" fill="#1f77b4" stroke="none"/>
<circle cx="1662.73" cy="1167.27" r="6.3" fill="#1f77b4" stroke="none"/>
<circle cx="1677.11" cy="1167.27" r="6.3" fill="#1f77b4" stroke="none"/>
<circle cx="1691.48" cy="1167.27" r="6.3" fill="#1f77b4" stroke="none"/>
<circle cx="1705.85" cy="1167.27" r="6.3" fill="#1f77b4" stroke="none"/>
<circle cx="1720.23" cy="1167.27" r="6.3" fill="#1f77b4" stroke="none"/>
<circle cx="1734.6" cy="1167.27" r="6.3" fill="#1f77b4" stroke="none"/>
<line x1="1562.12" y1="1409.8" x2="1562.12" y2="783" stroke="#e8141a" stroke-width="2.6" stroke-dasharray="11.4 4.95" stroke-linecap="butt" fill="none"/>
</g>
<rect x="996.35" y="783" width="773.45" height="626.8" fill="none" stroke="#000" stroke-width="1.75" stroke-linejoin="miter"/>
<path d="M1030.3 1409.8v7.6M1171.16 1409.8v7.6M1312.02 1409.8v7.6M1452.88 1409.8v7.6M1593.74 1409.8v7.6M1734.6 1409.8v7.6M996.35 829.9h-7.6M996.35 914.24h-7.6M996.35 998.58h-7.6M996.35 1082.92h-7.6M996.35 1167.27h-7.6M996.35 1251.61h-7.6M996.35 1335.95h-7.6" stroke="#000" stroke-width="1.75" fill="none"/>
<text x="1028.5" y="1439.6" text-anchor="middle" class="t">−3</text>
<text x="1169.36" y="1439.6" text-anchor="middle" class="t">−2</text>
<text x="1310.22" y="1439.6" text-anchor="middle" class="t">−1</text>
<text x="1453.28" y="1439.6" text-anchor="middle" class="t">0</text>
<text x="1594.14" y="1439.6" text-anchor="middle" class="t">1</text>
<text x="1735" y="1439.6" text-anchor="middle" class="t">2</text>
<text x="979.15" y="837.5" text-anchor="end" class="t">10.0</text>
<text x="979.15" y="921.84" text-anchor="end" class="t">7.5</text>
<text x="979.15" y="1006.18" text-anchor="end" class="t">5.0</text>
<text x="979.15" y="1090.52" text-anchor="end" class="t">2.5</text>
<text x="979.15" y="1174.87" text-anchor="end" class="t">0.0</text>
<text x="979.15" y="1259.21" text-anchor="end" class="t">−2.5</text>
<text x="979.15" y="1343.55" text-anchor="end" class="t">−5.0</text>
<text x="1381.08" y="770" text-anchor="middle" class="ti">Coefficient Stability for T2-W</text>
<text x="1381.08" y="1469.1" text-anchor="middle" class="t">log(Alpha)</text>
<text transform="translate(901.7 1096.4) rotate(-90)" text-anchor="middle" class="yl">Mean ± SD of Coefficients</text>
<clipPath id="c2a"><rect x="91.4" y="1530.7" width="773.5" height="627"/></clipPath>
<g clip-path="url(#c2a)" fill="none" stroke-width="2.4" stroke-linejoin="round" stroke-linecap="square">
<polyline points="126,1629.28 140.36,1629.28 154.73,1629.29 169.09,1629.3 183.46,1629.3 197.82,1629.31 212.19,1629.33 226.55,1629.35 240.91,1629.37 255.28,1629.4 269.64,1629.43 284.01,1629.48 298.37,1629.53 312.74,1629.61 327.1,1629.7 341.46,1629.81 355.83,1629.96 370.19,1630.14 384.56,1630.38 398.92,1630.67 413.29,1631.04 427.65,1631.51 442.01,1632.11 456.38,1632.87 470.74,1633.82 485.11,1635.03 499.47,1636.55 513.84,1638.49 528.2,1640.93 542.56,1644.02 556.93,1647.93 571.29,1652.87 585.66,1659.12 600.02,1667.03 614.39,1677.03 628.75,1689.68 643.11,1705.69 657.48,1725.93 671.84,1745.73 686.21,1769.9 700.57,1792.82 714.94,1802.17 729.3,1802.17 743.66,1802.17 758.03,1802.17 772.39,1802.17 786.76,1802.17 801.12,1802.17 815.49,1802.17 829.85,1802.17" stroke="#1f77b4"/>
<polyline points="126,1558.65 140.36,1558.66 154.73,1558.67 169.09,1558.67 183.46,1558.69 197.82,1558.7 212.19,1558.72 226.55,1558.74 240.91,1558.77 255.28,1558.8 269.64,1558.85 284.01,1558.91 298.37,1558.98 312.74,1559.07 327.1,1559.18 341.46,1559.33 355.83,1559.51 370.19,1559.75 384.56,1560.04 398.92,1560.42 413.29,1560.89 427.65,1561.48 442.01,1562.24 456.38,1563.19 470.74,1564.4 485.11,1566.22 499.47,1568.51 513.84,1571.42 528.2,1574.86 542.56,1579.21 556.93,1584.38 571.29,1590.91 585.66,1598.48 600.02,1608.06 614.39,1618.19 628.75,1631.45 643.11,1650.15 657.48,1674.32 671.84,1693.34 686.21,1721.72 700.57,1757.27 714.94,1790.32 729.3,1802.17 743.66,1802.17 758.03,1802.17 772.39,1802.17 786.76,1802.17 801.12,1802.17 815.49,1802.17 829.85,1802.17" stroke="#ff7f0e"/>
<polyline points="126,1648.46 140.36,1648.46 154.73,1648.46 169.09,1648.47 183.46,1648.48 197.82,1648.49 212.19,1648.5 226.55,1648.52 240.91,1648.54 255.28,1648.57 269.64,1648.6 284.01,1648.64 298.37,1648.7 312.74,1648.77 327.1,1648.85 341.46,1648.96 355.83,1649.1 370.19,1649.28 384.56,1649.5 398.92,1649.78 413.29,1650.14 427.65,1650.59 442.01,1651.16 456.38,1651.87 470.74,1652.78 485.11,1653.94 499.47,1655.39 513.84,1657.23 528.2,1659.56 542.56,1662.51 556.93,1666.23 571.29,1670.94 585.66,1676.9 600.02,1684.44 614.39,1693.98 628.75,1706.04 643.11,1721.29 657.48,1740.59 671.84,1768.81 686.21,1791.88 700.57,1802.17 714.94,1802.17 729.3,1802.17 743.66,1802.17 758.03,1802.17 772.39,1802.17 786.76,1802.17 801.12,1802.17 815.49,1802.17 829.85,1802.17" stroke="#2ca02c"/>
<polyline points="126,1771.61 140.36,1771.61 154.73,1771.61 169.09,1771.62 183.46,1771.62 197.82,1771.62 212.19,1771.62 226.55,1771.62 240.91,1771.62 255.28,1771.62 269.64,1771.63 284.01,1771.63 298.37,1771.64 312.74,1771.64 327.1,1771.65 341.46,1771.66 355.83,1771.68 370.19,1771.69 384.56,1771.71 398.92,1771.74 413.29,1771.78 427.65,1771.82 442.01,1771.87 456.38,1771.94 470.74,1772.03 485.11,1772.14 499.47,1772.28 513.84,1772.46 528.2,1772.68 542.56,1772.97 556.93,1773.33 571.29,1773.78 585.66,1774.36 600.02,1775.08 614.39,1776 628.75,1777.17 643.11,1778.64 657.48,1780.5 671.84,1783.93 686.21,1802.17 700.57,1802.17 714.94,1802.17 729.3,1802.17 743.66,1802.17 758.03,1802.17 772.39,1802.17 786.76,1802.17 801.12,1802.17 815.49,1802.17 829.85,1802.17" stroke="#d62728"/>
<polyline points="126,1640.51 140.36,1640.51 154.73,1640.52 169.09,1640.53 183.46,1640.54 197.82,1640.55 212.19,1640.57 226.55,1640.59 240.91,1640.61 255.28,1640.65 269.64,1640.69 284.01,1640.74 298.37,1640.81 312.74,1640.89 327.1,1641 341.46,1641.14 355.83,1641.31 370.19,1641.53 384.56,1641.8 398.92,1642.15 413.29,1642.59 427.65,1643.15 442.01,1643.85 456.38,1644.74 470.74,1645.87 485.11,1647.29 499.47,1649.1 513.84,1651.38 528.2,1654.26 542.56,1657.91 556.93,1662.52 571.29,1668.36 585.66,1675.74 600.02,1685.08 614.39,1696.89 628.75,1711.83 643.11,1730.72 657.48,1754.62 671.84,1777.23 686.21,1802.17 700.57,1802.17 714.94,1802.17 729.3,1802.17 743.66,1802.17 758.03,1802.17 772.39,1802.17 786.76,1802.17 801.12,1802.17 815.49,1802.17 829.85,1802.17" stroke="#9467bd"/>
<polyline points="126,1797.33 140.36,1797.33 154.73,1797.33 169.09,1797.33 183.46,1797.32 197.82,1797.32 212.19,1797.32 226.55,1797.31 240.91,1797.3 255.28,1797.29 269.64,1797.28 284.01,1797.27 298.37,1797.25 312.74,1797.23 327.1,1797.2 341.46,1797.16 355.83,1797.11 370.19,1797.05 384.56,1796.97 398.92,1796.88 413.29,1796.76 427.65,1796.6 442.01,1796.41 456.38,1796.16 470.74,1795.85 485.11,1795.45 499.47,1794.95 513.84,1794.32 528.2,1793.52 542.56,1792.51 556.93,1791.23 571.29,1789.61 585.66,1787.56 600.02,1784.97 614.39,1781.7 628.75,1777.55 643.11,1772.31 657.48,1765.69 671.84,1760.39 686.21,1770.36 700.57,1788.76 714.94,1802.17 729.3,1802.17 743.66,1802.17 758.03,1802.17 772.39,1802.17 786.76,1802.17 801.12,1802.17 815.49,1802.17 829.85,1802.17" stroke="#8c564b"/>
<polyline points="126,2090.12 140.36,2090.11 154.73,2090.1 169.09,2090.09 183.46,2090.08 197.82,2090.06 212.19,2090.04 226.55,2090.01 240.91,2089.97 255.28,2089.93 269.64,2089.87 284.01,2089.8 298.37,2089.71 312.74,2089.59 327.1,2089.45 341.46,2089.26 355.83,2089.03 370.19,2088.73 384.56,2088.36 398.92,2087.88 413.29,2087.29 427.65,2086.53 442.01,2085.57 456.38,2084.36 470.74,2082.82 485.11,2080.89 499.47,2078.43 513.84,2075.33 528.2,2071.41 542.56,2066.45 556.93,2059.83 571.29,2051.45 585.66,2040.86 600.02,2027.47 614.39,2003.72 628.75,1973.68 643.11,1937.97 657.48,1898.06 671.84,1859.86 686.21,1827.43 700.57,1802.17 714.94,1802.17 729.3,1802.17 743.66,1802.17 758.03,1802.17 772.39,1802.17 786.76,1802.17 801.12,1802.17 815.49,1802.17 829.85,1802.17" stroke="#e377c2"/>
<polyline points="126,1655.93 140.36,1655.93 154.73,1655.93 169.09,1655.94 183.46,1655.94 197.82,1655.94 212.19,1655.95 226.55,1655.95 240.91,1655.96 255.28,1655.97 269.64,1655.98 284.01,1656 298.37,1656.02 312.74,1656.05 327.1,1656.08 341.46,1656.12 355.83,1656.17 370.19,1656.23 384.56,1656.32 398.92,1656.42 413.29,1656.55 427.65,1656.72 442.01,1656.93 456.38,1657.2 470.74,1657.53 485.11,1657.96 499.47,1658.5 513.84,1659.18 528.2,1660.04 542.56,1661.14 556.93,1662.52 571.29,1664.26 585.66,1666.47 600.02,1669.26 614.39,1672.8 628.75,1677.27 643.11,1682.92 657.48,1690.07 671.84,1704.88 686.21,1722.66 700.57,1756.18 714.94,1788.76 729.3,1802.17 743.66,1802.17 758.03,1802.17 772.39,1802.17 786.76,1802.17 801.12,1802.17 815.49,1802.17 829.85,1802.17" stroke="#7f7f7f"/>
<polyline points="126,1699.27 140.36,1699.27 154.73,1699.28 169.09,1699.28 183.46,1699.28 197.82,1699.28 212.19,1699.29 226.55,1699.29 240.91,1699.3 255.28,1699.31 269.64,1699.32 284.01,1699.34 298.37,1699.35 312.74,1699.38 327.1,1699.41 341.46,1699.44 355.83,1699.49 370.19,1699.55 384.56,1699.62 398.92,1699.71 413.29,1699.83 427.65,1699.98 442.01,1700.17 456.38,1700.41 470.74,1700.71 485.11,1701.09 499.47,1701.57 513.84,1702.18 528.2,1702.96 542.56,1703.93 556.93,1705.17 571.29,1706.73 585.66,1708.71 600.02,1711.21 614.39,1714.37 628.75,1718.37 643.11,1723.43 657.48,1729.83 671.84,1735.44 686.21,1746.82 700.57,1776.13 714.94,1799.05 729.3,1802.17 743.66,1802.17 758.03,1802.17 772.39,1802.17 786.76,1802.17 801.12,1802.17 815.49,1802.17 829.85,1802.17" stroke="#bcbd22"/>
<polyline points="126,1730.46 140.36,1730.46 154.73,1730.46 169.09,1730.47 183.46,1730.47 197.82,1730.48 212.19,1730.48 226.55,1730.49 240.91,1730.5 255.28,1730.52 269.64,1730.54 284.01,1730.56 298.37,1730.59 312.74,1730.62 327.1,1730.67 341.46,1730.73 355.83,1730.8 370.19,1730.9 384.56,1731.01 398.92,1731.16 413.29,1731.35 427.65,1731.59 442.01,1731.89 456.38,1732.27 470.74,1732.75 485.11,1733.36 499.47,1734.13 513.84,1735.11 528.2,1736.34 542.56,1737.9 556.93,1739.87 571.29,1742.37 585.66,1745.52 600.02,1749.52 614.39,1754.57 628.75,1760.95 643.11,1769.03 657.48,1779.25 671.84,1791.26 686.21,1802.17 700.57,1802.17 714.94,1802.17 729.3,1802.17 743.66,1802.17 758.03,1802.17 772.39,1802.17 786.76,1802.17 801.12,1802.17 815.49,1802.17 829.85,1802.17" stroke="#17becf"/>
<polyline points="126,1630.68 140.36,1630.69 154.73,1630.69 169.09,1630.7 183.46,1630.71 197.82,1630.72 212.19,1630.74 226.55,1630.75 240.91,1630.78 255.28,1630.81 269.64,1630.85 284.01,1630.89 298.37,1630.95 312.74,1631.03 327.1,1631.13 341.46,1631.25 355.83,1631.4 370.19,1631.6 384.56,1631.85 398.92,1632.16 413.29,1632.56 427.65,1633.06 442.01,1633.69 456.38,1634.49 470.74,1635.5 485.11,1636.78 499.47,1638.4 513.84,1640.45 528.2,1643.05 542.56,1646.33 556.93,1650.47 571.29,1655.72 585.66,1662.35 600.02,1670.75 614.39,1681.36 628.75,1694.79 643.11,1711.78 657.48,1733.26 671.84,1753.06 686.21,1776.13 700.57,1795 714.94,1802.17 729.3,1802.17 743.66,1802.17 758.03,1802.17 772.39,1802.17 786.76,1802.17 801.12,1802.17 815.49,1802.17 829.85,1802.17" stroke="#1f77b4"/>
<polyline points="126,1800.46 140.36,1800.46 154.73,1800.46 169.09,1800.46 183.46,1800.46 197.82,1800.47 212.19,1800.47 226.55,1800.47 240.91,1800.48 255.28,1800.48 269.64,1800.49 284.01,1800.5 298.37,1800.51 312.74,1800.52 327.1,1800.54 341.46,1800.57 355.83,1800.59 370.19,1800.63 384.56,1800.68 398.92,1800.74 413.29,1800.81 427.65,1800.9 442.01,1801.02 456.38,1801.17 470.74,1801.36 485.11,1801.6 499.47,1801.9 513.84,1802.29 528.2,1802.77 542.56,1803.38 556.93,1804.16 571.29,1805.14 585.66,1806.38 600.02,1807.95 614.39,1809.93 628.75,1812.44 643.11,1815.62 657.48,1819.63 671.84,1821.35 686.21,1810.43 700.57,1802.17 714.94,1802.17 729.3,1802.17 743.66,1802.17 758.03,1802.17 772.39,1802.17 786.76,1802.17 801.12,1802.17 815.49,1802.17 829.85,1802.17" stroke="#ff7f0e"/>
<polyline points="126,1703.96 140.36,1703.97 154.73,1703.97 169.09,1703.98 183.46,1703.99 197.82,1704 212.19,1704.01 226.55,1704.03 240.91,1704.05 255.28,1704.08 269.64,1704.11 284.01,1704.15 298.37,1704.21 312.74,1704.28 327.1,1704.37 341.46,1704.48 355.83,1704.62 370.19,1704.8 384.56,1705.03 398.92,1705.32 413.29,1705.68 427.65,1706.14 442.01,1706.72 456.38,1707.46 470.74,1708.39 485.11,1709.56 499.47,1711.05 513.84,1712.93 528.2,1715.31 542.56,1718.32 556.93,1722.13 571.29,1726.94 585.66,1733.03 600.02,1740.74 614.39,1750.48 628.75,1762.81 643.11,1778.4 657.48,1798.12 671.84,1802.17 686.21,1802.17 700.57,1802.17 714.94,1802.17 729.3,1802.17 743.66,1802.17 758.03,1802.17 772.39,1802.17 786.76,1802.17 801.12,1802.17 815.49,1802.17 829.85,1802.17" stroke="#2ca02c"/>
<polyline points="126,1807.78 140.36,1807.78 154.73,1807.78 169.09,1807.79 183.46,1807.79 197.82,1807.79 212.19,1807.79 226.55,1807.79 240.91,1807.79 255.28,1807.79 269.64,1807.79 284.01,1807.79 298.37,1807.79 312.74,1807.79 327.1,1807.79 341.46,1807.8 355.83,1807.8 370.19,1807.8 384.56,1807.81 398.92,1807.81 413.29,1807.82 427.65,1807.83 442.01,1807.84 456.38,1807.86 470.74,1807.88 485.11,1807.91 499.47,1807.94 513.84,1807.98 528.2,1808.03 542.56,1808.09 556.93,1808.18 571.29,1808.28 585.66,1808.41 600.02,1808.58 614.39,1808.79 628.75,1809.05 643.11,1809.39 657.48,1809.81 671.84,1804.35 686.21,1802.17 700.57,1802.17 714.94,1802.17 729.3,1802.17 743.66,1802.17 758.03,1802.17 772.39,1802.17 786.76,1802.17 801.12,1802.17 815.49,1802.17 829.85,1802.17" stroke="#d62728"/>
<polyline points="126,1941.22 140.36,1941.22 154.73,1941.21 169.09,1941.2 183.46,1941.19 197.82,1941.17 212.19,1941.16 226.55,1941.13 240.91,1941.1 255.28,1941.06 269.64,1941.01 284.01,1940.95 298.37,1940.87 312.74,1940.77 327.1,1940.65 341.46,1940.49 355.83,1940.28 370.19,1940.03 384.56,1939.71 398.92,1939.3 413.29,1938.78 427.65,1938.13 442.01,1937.3 456.38,1936.26 470.74,1934.94 485.11,1933.27 499.47,1931.16 513.84,1928.48 528.2,1925.1 542.56,1920.83 556.93,1915.42 571.29,1908.58 585.66,1899.93 600.02,1888.98 614.39,1875.14 628.75,1857.63 643.11,1835.48 657.48,1807.47 671.84,1802.17 686.21,1802.17 700.57,1802.17 714.94,1802.17 729.3,1802.17 743.66,1802.17 758.03,1802.17 772.39,1802.17 786.76,1802.17 801.12,1802.17 815.49,1802.17 829.85,1802.17" stroke="#9467bd"/>
<polyline points="126,1835.7 140.36,1835.7 154.73,1835.7 169.09,1835.7 183.46,1835.7 197.82,1835.7 212.19,1835.71 226.55,1835.71 240.91,1835.72 255.28,1835.72 269.64,1835.73 284.01,1835.74 298.37,1835.75 312.74,1835.77 327.1,1835.78 341.46,1835.81 355.83,1835.84 370.19,1835.88 384.56,1835.93 398.92,1835.99 413.29,1836.07 427.65,1836.17 442.01,1836.29 456.38,1836.45 470.74,1836.65 485.11,1836.9 499.47,1837.22 513.84,1837.63 528.2,1838.14 542.56,1838.79 556.93,1839.61 571.29,1840.64 585.66,1841.95 600.02,1843.61 614.39,1845.71 628.75,1848.36 643.11,1851.72 657.48,1855.96 671.84,1855.18 686.21,1848.01 700.57,1835.54 714.94,1811.37 729.3,1802.17 743.66,1802.17 758.03,1802.17 772.39,1802.17 786.76,1802.17 801.12,1802.17 815.49,1802.17 829.85,1802.17" stroke="#8c564b"/>
<polyline points="126,1857.52 140.36,1857.51 154.73,1857.51 169.09,1857.51 183.46,1857.51 197.82,1857.5 212.19,1857.5 226.55,1857.49 240.91,1857.49 255.28,1857.48 269.64,1857.47 284.01,1857.45 298.37,1857.43 312.74,1857.41 327.1,1857.38 341.46,1857.34 355.83,1857.29 370.19,1857.23 384.56,1857.16 398.92,1857.06 413.29,1856.94 427.65,1856.79 442.01,1856.59 456.38,1856.35 470.74,1856.04 485.11,1855.64 499.47,1855.15 513.84,1854.52 528.2,1853.72 542.56,1852.71 556.93,1851.44 571.29,1849.83 585.66,1847.79 600.02,1845.22 614.39,1841.96 628.75,1837.84 643.11,1832.62 657.48,1826.03 671.84,1814.49 686.21,1802.17 700.57,1802.17 714.94,1802.17 729.3,1802.17 743.66,1802.17 758.03,1802.17 772.39,1802.17 786.76,1802.17 801.12,1802.17 815.49,1802.17 829.85,1802.17" stroke="#e377c2"/>
<polyline points="126,1730.44 140.36,1730.44 154.73,1730.44 169.09,1730.44 183.46,1730.44 197.82,1730.43 212.19,1730.43 226.55,1730.42 240.91,1730.41 255.28,1730.4 269.64,1730.39 284.01,1730.37 298.37,1730.35 312.74,1730.32 327.1,1730.29 341.46,1730.25 355.83,1730.19 370.19,1730.12 384.56,1730.04 398.92,1729.93 413.29,1729.79 427.65,1729.62 442.01,1729.39 456.38,1729.11 470.74,1728.76 485.11,1728.31 499.47,1727.75 513.84,1727.03 528.2,1726.12 542.56,1724.98 556.93,1723.53 571.29,1721.69 585.66,1719.37 600.02,1716.44 614.39,1712.73 628.75,1708.04 643.11,1702.1 657.48,1694.59 671.84,1689.29 686.21,1697.09 700.57,1721.72 714.94,1767.87 729.3,1802.17 743.66,1802.17 758.03,1802.17 772.39,1802.17 786.76,1802.17 801.12,1802.17 815.49,1802.17 829.85,1802.17" stroke="#7f7f7f"/>
<polyline points="126,1700.84 140.36,1700.85 154.73,1700.85 169.09,1700.86 183.46,1700.86 197.82,1700.87 212.19,1700.89 226.55,1700.9 240.91,1700.92 255.28,1700.95 269.64,1700.98 284.01,1701.02 298.37,1701.07 312.74,1701.13 327.1,1701.21 341.46,1701.32 355.83,1701.44 370.19,1701.61 384.56,1701.81 398.92,1702.08 413.29,1702.41 427.65,1702.83 442.01,1703.35 456.38,1704.02 470.74,1704.87 485.11,1705.94 499.47,1707.3 513.84,1709.01 528.2,1711.18 542.56,1713.92 556.93,1717.38 571.29,1721.77 585.66,1727.31 600.02,1734.33 614.39,1743.2 628.75,1754.43 643.11,1768.62 657.48,1786.58 671.84,1799.05 686.21,1802.17 700.57,1802.17 714.94,1802.17 729.3,1802.17 743.66,1802.17 758.03,1802.17 772.39,1802.17 786.76,1802.17 801.12,1802.17 815.49,1802.17 829.85,1802.17" stroke="#bcbd22"/>
<polyline points="126,2031.03 140.36,2031.02 154.73,2031.02 169.09,2031.01 183.46,2030.99 197.82,2030.98 212.19,2030.96 226.55,2030.93 240.91,2030.9 255.28,2030.86 269.64,2030.81 284.01,2030.74 298.37,2030.66 312.74,2030.56 327.1,2030.43 341.46,2030.26 355.83,2030.05 370.19,2029.78 384.56,2029.45 398.92,2029.02 413.29,2028.48 427.65,2027.8 442.01,2026.94 456.38,2025.85 470.74,2024.47 485.11,2022.72 499.47,2020.52 513.84,2017.72 528.2,2014.19 542.56,2009.73 556.93,2004.08 571.29,1996.94 585.66,1987.9 600.02,1976.47 614.39,1962.02 628.75,1943.73 643.11,1920.61 657.48,1891.35 671.84,1857.05 686.21,1826.34 700.57,1802.17 714.94,1802.17 729.3,1802.17 743.66,1802.17 758.03,1802.17 772.39,1802.17 786.76,1802.17 801.12,1802.17 815.49,1802.17 829.85,1802.17" stroke="#17becf"/>
<polyline points="126,1782.84 140.36,1782.84 154.73,1782.84 169.09,1782.84 183.46,1782.84 197.82,1782.84 212.19,1782.84 226.55,1782.84 240.91,1782.84 255.28,1782.84 269.64,1782.84 284.01,1782.84 298.37,1782.84 312.74,1782.84 327.1,1782.84 341.46,1782.84 355.83,1782.84 370.19,1782.85 384.56,1782.85 398.92,1782.85 413.29,1782.85 427.65,1782.86 442.01,1782.86 456.38,1782.87 470.74,1782.87 485.11,1782.88 499.47,1782.9 513.84,1782.91 528.2,1782.93 542.56,1782.96 556.93,1782.99 571.29,1783.03 585.66,1783.08 600.02,1783.14 614.39,1783.22 628.75,1783.33 643.11,1783.45 657.48,1783.62 671.84,1787.67 686.21,1802.17 700.57,1802.17 714.94,1802.17 729.3,1802.17 743.66,1802.17 758.03,1802.17 772.39,1802.17 786.76,1802.17 801.12,1802.17 815.49,1802.17 829.85,1802.17" stroke="#1f77b4"/>
<polyline points="126,1881.85 140.36,1881.85 154.73,1881.85 169.09,1881.85 183.46,1881.85 197.82,1881.85 212.19,1881.86 226.55,1881.86 240.91,1881.87 255.28,1881.87 269.64,1881.88 284.01,1881.89 298.37,1881.9 312.74,1881.91 327.1,1881.93 341.46,1881.96 355.83,1881.99 370.19,1882.02 384.56,1882.07 398.92,1882.13 413.29,1882.21 427.65,1882.3 442.01,1882.42 456.38,1882.58 470.74,1882.77 485.11,1883.02 499.47,1883.33 513.84,1883.72 528.2,1884.21 542.56,1884.84 556.93,1885.64 571.29,1886.64 585.66,1887.91 600.02,1889.52 614.39,1891.55 628.75,1894.12 643.11,1897.38 657.48,1901.49 671.84,1902.58 686.21,1901.96 700.57,1882.62 714.94,1848.01 729.3,1802.17 743.66,1802.17 758.03,1802.17 772.39,1802.17 786.76,1802.17 801.12,1802.17 815.49,1802.17 829.85,1802.17" stroke="#ff7f0e"/>
<polyline points="126,1908.81 140.36,1908.81 154.73,1908.8 169.09,1908.8 183.46,1908.79 197.82,1908.79 212.19,1908.78 226.55,1908.77 240.91,1908.76 255.28,1908.74 269.64,1908.73 284.01,1908.7 298.37,1908.67 312.74,1908.63 327.1,1908.58 341.46,1908.52 355.83,1908.44 370.19,1908.34 384.56,1908.22 398.92,1908.06 413.29,1907.85 427.65,1907.6 442.01,1907.28 456.38,1906.87 470.74,1906.35 485.11,1905.7 499.47,1904.88 513.84,1903.83 528.2,1902.51 542.56,1900.84 556.93,1898.73 571.29,1896.06 585.66,1892.68 600.02,1888.41 614.39,1883.01 628.75,1876.17 643.11,1867.52 657.48,1856.59 671.84,1842.87 686.21,1820.88 700.57,1802.17 714.94,1802.17 729.3,1802.17 743.66,1802.17 758.03,1802.17 772.39,1802.17 786.76,1802.17 801.12,1802.17 815.49,1802.17 829.85,1802.17" stroke="#2ca02c"/>
<polyline points="126,1933.91 140.36,1933.9 154.73,1933.9 169.09,1933.9 183.46,1933.89 197.82,1933.88 212.19,1933.87 226.55,1933.86 240.91,1933.84 255.28,1933.82 269.64,1933.8 284.01,1933.77 298.37,1933.73 312.74,1933.67 327.1,1933.61 341.46,1933.53 355.83,1933.42 370.19,1933.29 384.56,1933.13 398.92,1932.92 413.29,1932.65 427.65,1932.31 442.01,1931.89 456.38,1931.35 470.74,1930.67 485.11,1929.81 499.47,1928.72 513.84,1927.34 528.2,1925.6 542.56,1923.4 556.93,1920.61 571.29,1917.09 585.66,1912.63 600.02,1906.99 614.39,1899.86 628.75,1890.84 643.11,1879.44 657.48,1865 671.84,1842.87 686.21,1814.49 700.57,1802.17 714.94,1802.17 729.3,1802.17 743.66,1802.17 758.03,1802.17 772.39,1802.17 786.76,1802.17 801.12,1802.17 815.49,1802.17 829.85,1802.17" stroke="#d62728"/>
<polyline points="126,1985.66 140.36,1985.65 154.73,1985.64 169.09,1985.63 183.46,1985.61 197.82,1985.6 212.19,1985.57 226.55,1985.54 240.91,1985.51 255.28,1985.46 269.64,1985.4 284.01,1985.33 298.37,1985.24 312.74,1985.12 327.1,1984.97 341.46,1984.78 355.83,1984.54 370.19,1984.24 384.56,1983.86 398.92,1983.37 413.29,1982.76 427.65,1981.99 442.01,1981.01 456.38,1979.77 470.74,1978.21 485.11,1976.23 499.47,1973.72 513.84,1970.55 528.2,1966.55 542.56,1961.48 556.93,1955.07 571.29,1946.96 585.66,1936.7 600.02,1923.73 614.39,1907.32 628.75,1886.57 643.11,1860.32 657.48,1827.12 671.84,1806.23 686.21,1802.17 700.57,1802.17 714.94,1802.17 729.3,1802.17 743.66,1802.17 758.03,1802.17 772.39,1802.17 786.76,1802.17 801.12,1802.17 815.49,1802.17 829.85,1802.17" stroke="#9467bd"/>
<polyline points="126,2128 140.36,2128 154.73,2127.99 169.09,2127.98 183.46,2127.96 197.82,2127.94 212.19,2127.92 226.55,2127.89 240.91,2127.85 255.28,2127.81 269.64,2127.75 284.01,2127.67 298.37,2127.57 312.74,2127.45 327.1,2127.3 341.46,2127.1 355.83,2126.86 370.19,2126.54 384.56,2126.15 398.92,2125.65 413.29,2125.02 427.65,2124.22 442.01,2123.22 456.38,2121.94 470.74,2120.33 485.11,2118.29 499.47,2115.7 513.84,2112.44 528.2,2108.31 542.56,2103.09 556.93,2096.47 571.29,2088.09 585.66,2077.5 600.02,2064.11 614.39,2050 628.75,2032.14 643.11,2011.01 657.48,1984.28 671.84,1947.64 686.21,1902.58 700.57,1859.55 714.94,1820.88 729.3,1802.17 743.66,1802.17 758.03,1802.17 772.39,1802.17 786.76,1802.17 801.12,1802.17 815.49,1802.17 829.85,1802.17" stroke="#8c564b"/>
<polyline points="126,1688.68 140.36,1688.68 154.73,1688.69 169.09,1688.69 183.46,1688.7 197.82,1688.71 212.19,1688.72 226.55,1688.74 240.91,1688.75 255.28,1688.78 269.64,1688.81 284.01,1688.85 298.37,1688.89 312.74,1688.95 327.1,1689.03 341.46,1689.13 355.83,1689.25 370.19,1689.4 384.56,1689.6 398.92,1689.84 413.29,1690.15 427.65,1690.55 442.01,1691.05 456.38,1691.68 470.74,1692.47 485.11,1693.48 499.47,1694.76 513.84,1696.37 528.2,1698.41 542.56,1700.99 556.93,1704.26 571.29,1708.39 585.66,1713.61 600.02,1720.22 614.39,1728.58 628.75,1739.15 643.11,1752.52 657.48,1769.43 671.84,1791.88 686.21,1802.17 700.57,1802.17 714.94,1802.17 729.3,1802.17 743.66,1802.17 758.03,1802.17 772.39,1802.17 786.76,1802.17 801.12,1802.17 815.49,1802.17 829.85,1802.17" stroke="#e377c2"/>
<polyline points="126,1932.03 140.36,1932.03 154.73,1932.03 169.09,1932.02 183.46,1932.01 197.82,1932.01 212.19,1931.99 226.55,1931.98 240.91,1931.96 255.28,1931.94 269.64,1931.91 284.01,1931.87 298.37,1931.83 312.74,1931.77 327.1,1931.69 341.46,1931.6 355.83,1931.48 370.19,1931.33 384.56,1931.14 398.92,1930.9 413.29,1930.59 427.65,1930.21 442.01,1929.72 456.38,1929.1 470.74,1928.32 485.11,1927.34 499.47,1926.09 513.84,1924.51 528.2,1922.51 542.56,1919.99 556.93,1916.79 571.29,1912.75 585.66,1907.64 600.02,1901.18 614.39,1893.38 628.75,1882.47 643.11,1866.1 657.48,1841.93 671.84,1816.2 686.21,1802.17 700.57,1802.17 714.94,1802.17 729.3,1802.17 743.66,1802.17 758.03,1802.17 772.39,1802.17 786.76,1802.17 801.12,1802.17 815.49,1802.17 829.85,1802.17" stroke="#7f7f7f"/>
<line x1="657.48" y1="2157.7" x2="657.48" y2="1530.7" stroke="#a00a0f" stroke-width="2.6" stroke-dasharray="11.4 4.95" stroke-linecap="butt" fill="none"/>
</g>
<rect x="91.4" y="1530.7" width="773.5" height="627" fill="none" stroke="#000" stroke-width="1.75" stroke-linejoin="miter"/>
<path d="M126 2157.7v7.6M266.77 2157.7v7.6M407.54 2157.7v7.6M548.31 2157.7v7.6M689.08 2157.7v7.6M829.85 2157.7v7.6M91.4 1568.3h-7.6M91.4 1646.26h-7.6M91.4 1724.21h-7.6M91.4 1802.17h-7.6M91.4 1880.13h-7.6M91.4 1958.09h-7.6M91.4 2036.04h-7.6M91.4 2114h-7.6" stroke="#000" stroke-width="1.75" fill="none"/>
<text x="124.2" y="2187.5" text-anchor="middle" class="t">−3</text>
<text x="264.97" y="2187.5" text-anchor="middle" class="t">−2</text>
<text x="405.74" y="2187.5" text-anchor="middle" class="t">−1</text>
<text x="548.71" y="2187.5" text-anchor="middle" class="t">0</text>
<text x="689.48" y="2187.5" text-anchor="middle" class="t">1</text>
<text x="830.25" y="2187.5" text-anchor="middle" class="t">2</text>
<text x="76.8" y="1575.9" text-anchor="end" class="t">15</text>
<text x="76.8" y="1653.86" text-anchor="end" class="t">10</text>
<text x="76.8" y="1731.81" text-anchor="end" class="t">5</text>
<text x="76.8" y="1809.77" text-anchor="end" class="t">0</text>
<text x="76.8" y="1887.73" text-anchor="end" class="t">−5</text>
<text x="76.8" y="1965.69" text-anchor="end" class="t">−10</text>
<text x="76.8" y="2043.64" text-anchor="end" class="t">−15</text>
<text x="76.8" y="2121.6" text-anchor="end" class="t">−20</text>
<text x="476.15" y="1517.7" text-anchor="middle" class="ti">LASSO for DCE</text>
<text x="476.15" y="2217" text-anchor="middle" class="t">log(Alpha)</text>
<text transform="translate(16.4 1844.2) rotate(-90)" text-anchor="middle" class="yl">LASSO Coefficients</text>
<clipPath id="c2b"><rect x="996.35" y="1530.7" width="773.45" height="627"/></clipPath>
<g clip-path="url(#c2b)" fill="none">
<path d="M1030.3 2127.32V1557.78M1044.67 2127.31V1557.78M1059.05 2127.3V1557.79M1073.42 2127.29V1557.8M1087.79 2127.27V1557.82M1102.17 2127.25V1557.84M1116.54 2127.23V1557.86M1130.91 2127.2V1557.89M1145.29 2127.16V1557.92M1159.66 2127.11V1557.97M1174.03 2127.05V1558.02M1188.41 2126.98V1558.1M1202.78 2126.88V1558.19M1217.16 2126.75V1558.3M1231.53 2126.6V1558.45M1245.9 2126.4V1558.63M1260.28 2126.15V1558.87M1274.65 2125.84V1559.16M1289.02 2125.44V1559.53M1303.4 2124.93V1560M1317.77 2124.29V1560.6M1332.14 2123.49V1561.36M1346.52 2122.47V1562.31M1360.89 2121.18V1563.51M1375.26 2119.55V1565.04M1389.64 2117.48V1567.02M1404.01 2114.86V1569.52M1418.38 2111.55V1572.67M1432.76 2107.39V1576.61M1447.13 2102.14V1581.58M1461.5 2095.46V1587.81M1475.88 2087.06V1595.64M1490.25 2076.54V1605.33M1504.62 2063.36V1617.47M1519 2046.37V1632.36M1533.37 2025.34V1650.67M1547.74 2000.4V1672.58M1562.12 1972.49V1696.98M1576.49 1944.56V1720.15M1590.87 1918.89V1748.3M1605.24 1890.88V1780.49M1619.61 1863.83V1816.92M1633.99 1839.6V1839.6M1648.36 1839.6V1839.6M1662.73 1839.6V1839.6M1677.11 1839.6V1839.6M1691.48 1839.6V1839.6M1705.85 1839.6V1839.6M1720.23 1839.6V1839.6M1734.6 1839.6V1839.6" stroke="#1a62a0" stroke-width="2.9"/>
<path d="M1020.3 1557.78h20M1020.3 2127.32h20M1034.67 1557.78h20M1034.67 2127.31h20M1049.05 1557.79h20M1049.05 2127.3h20M1063.42 1557.8h20M1063.42 2127.29h20M1077.79 1557.82h20M1077.79 2127.27h20M1092.17 1557.84h20M1092.17 2127.25h20M1106.54 1557.86h20M1106.54 2127.23h20M1120.91 1557.89h20M1120.91 2127.2h20M1135.29 1557.92h20M1135.29 2127.16h20M1149.66 1557.97h20M1149.66 2127.11h20M1164.03 1558.02h20M1164.03 2127.05h20M1178.41 1558.1h20M1178.41 2126.98h20M1192.78 1558.19h20M1192.78 2126.88h20M1207.16 1558.3h20M1207.16 2126.75h20M1221.53 1558.45h20M1221.53 2126.6h20M1235.9 1558.63h20M1235.9 2126.4h20M1250.28 1558.87h20M1250.28 2126.15h20M1264.65 1559.16h20M1264.65 2125.84h20M1279.02 1559.53h20M1279.02 2125.44h20M1293.4 1560h20M1293.4 2124.93h20M1307.77 1560.6h20M1307.77 2124.29h20M1322.14 1561.36h20M1322.14 2123.49h20M1336.52 1562.31h20M1336.52 2122.47h20M1350.89 1563.51h20M1350.89 2121.18h20M1365.26 1565.04h20M1365.26 2119.55h20M1379.64 1567.02h20M1379.64 2117.48h20M1394.01 1569.52h20M1394.01 2114.86h20M1408.38 1572.67h20M1408.38 2111.55h20M1422.76 1576.61h20M1422.76 2107.39h20M1437.13 1581.58h20M1437.13 2102.14h20M1451.5 1587.81h20M1451.5 2095.46h20M1465.88 1595.64h20M1465.88 2087.06h20M1480.25 1605.33h20M1480.25 2076.54h20M1494.62 1617.47h20M1494.62 2063.36h20M1509 1632.36h20M1509 2046.37h20M1523.37 1650.67h20M1523.37 2025.34h20M1537.74 1672.58h20M1537.74 2000.4h20M1552.12 1696.98h20M1552.12 1972.49h20M1566.49 1720.15h20M1566.49 1944.56h20M1580.87 1748.3h20M1580.87 1918.89h20M1595.24 1780.49h20M1595.24 1890.88h20M1609.61 1816.92h20M1609.61 1863.83h20M1623.99 1839.6h20M1623.99 1839.6h20M1638.36 1839.6h20M1638.36 1839.6h20M1652.73 1839.6h20M1652.73 1839.6h20M1667.11 1839.6h20M1667.11 1839.6h20M1681.48 1839.6h20M1681.48 1839.6h20M1695.85 1839.6h20M1695.85 1839.6h20M1710.23 1839.6h20M1710.23 1839.6h20M1724.6 1839.6h20M1724.6 1839.6h20" stroke="#1a62a0" stroke-width="2.0"/>
<polyline points="1030.3,1842.55 1044.67,1842.55 1059.05,1842.55 1073.42,1842.55 1087.79,1842.54 1102.17,1842.54 1116.54,1842.54 1130.91,1842.54 1145.29,1842.54 1159.66,1842.54 1174.03,1842.54 1188.41,1842.54 1202.78,1842.53 1217.16,1842.53 1231.53,1842.52 1245.9,1842.52 1260.28,1842.51 1274.65,1842.5 1289.02,1842.49 1303.4,1842.47 1317.77,1842.45 1332.14,1842.42 1346.52,1842.39 1360.89,1842.35 1375.26,1842.29 1389.64,1842.25 1404.01,1842.19 1418.38,1842.11 1432.76,1842 1447.13,1841.86 1461.5,1841.63 1475.88,1841.35 1490.25,1840.94 1504.62,1840.42 1519,1839.37 1533.37,1838 1547.74,1836.49 1562.12,1834.74 1576.49,1832.36 1590.87,1833.6 1605.24,1835.68 1619.61,1840.37 1633.99,1839.6 1648.36,1839.6 1662.73,1839.6 1677.11,1839.6 1691.48,1839.6 1705.85,1839.6 1720.23,1839.6 1734.6,1839.6" stroke="#1f77b4" stroke-width="3.0" stroke-linejoin="round"/>
<circle cx="1030.3" cy="1842.55" r="6.3" fill="#1f77b4" stroke="none"/>
<circle cx="1044.67" cy="1842.55" r="6.3" fill="#1f77b4" stroke="none"/>
<circle cx="1059.05" cy="1842.55" r="6.3" fill="#1f77b4" stroke="none"/>
<circle cx="1073.42" cy="1842.55" r="6.3" fill="#1f77b4" stroke="none"/>
<circle cx="1087.79" cy="1842.54" r="6.3" fill="#1f77b4" stroke="none"/>
<circle cx="1102.17" cy="1842.54" r="6.3" fill="#1f77b4" stroke="none"/>
<circle cx="1116.54" cy="1842.54" r="6.3" fill="#1f77b4" stroke="none"/>
<circle cx="1130.91" cy="1842.54" r="6.3" fill="#1f77b4" stroke="none"/>
<circle cx="1145.29" cy="1842.54" r="6.3" fill="#1f77b4" stroke="none"/>
<circle cx="1159.66" cy="1842.54" r="6.3" fill="#1f77b4" stroke="none"/>
<circle cx="1174.03" cy="1842.54" r="6.3" fill="#1f77b4" stroke="none"/>
<circle cx="1188.41" cy="1842.54" r="6.3" fill="#1f77b4" stroke="none"/>
<circle cx="1202.78" cy="1842.53" r="6.3" fill="#1f77b4" stroke="none"/>
<circle cx="1217.16" cy="1842.53" r="6.3" fill="#1f77b4" stroke="none"/>
<circle cx="1231.53" cy="1842.52" r="6.3" fill="#1f77b4" stroke="none"/>
<circle cx="1245.9" cy="1842.52" r="6.3" fill="#1f77b4" stroke="none"/>
<circle cx="1260.28" cy="1842.51" r="6.3" fill="#1f77b4" stroke="none"/>
<circle cx="1274.65" cy="1842.5" r="6.3" fill="#1f77b4" stroke="none"/>
<circle cx="1289.02" cy="1842.49" r="6.3" fill="#1f77b4" stroke="none"/>
<circle cx="1303.4" cy="1842.47" r="6.3" fill="#1f77b4" stroke="none"/>
<circle cx="1317.77" cy="1842.45" r="6.3" fill="#1f77b4" stroke="none"/>
<circle cx="1332.14" cy="1842.42" r="6.3" fill="#1f77b4" stroke="none"/>
<circle cx="1346.52" cy="1842.39" r="6.3" fill="#1f77b4" stroke="none"/>
<circle cx="1360.89" cy="1842.35" r="6.3" fill="#1f77b4" stroke="none"/>
<circle cx="1375.26" cy="1842.29" r="6.3" fill="#1f77b4" stroke="none"/>
<circle cx="1389.64" cy="1842.25" r="6.3" fill="#1f77b4" stroke="none"/>
<circle cx="1404.01" cy="1842.19" r="6.3" fill="#1f77b4" stroke="none"/>
<circle cx="1418.38" cy="1842.11" r="6.3" fill="#1f77b4" stroke="none"/>
<circle cx="1432.76" cy="1842" r="6.3" fill="#1f77b4" stroke="none"/>
<circle cx="1447.13" cy="1841.86" r="6.3" fill="#1f77b4" stroke="none"/>
<circle cx="1461.5" cy="1841.63" r="6.3" fill="#1f77b4" stroke="none"/>
<circle cx="1475.88" cy="1841.35" r="6.3" fill="#1f77b4" stroke="none"/>
<circle cx="1490.25" cy="1840.94" r="6.3" fill="#1f77b4" stroke="none"/>
<circle cx="1504.62" cy="1840.42" r="6.3" fill="#1f77b4" stroke="none"/>
<circle cx="1519" cy="1839.37" r="6.3" fill="#1f77b4" stroke="none"/>
<circle cx="1533.37" cy="1838" r="6.3" fill="#1f77b4" stroke="none"/>
<circle cx="1547.74" cy="1836.49" r="6.3" fill="#1f77b4" stroke="none"/>
<circle cx="1562.12" cy="1834.74" r="6.3" fill="#1f77b4" stroke="none"/>
<circle cx="1576.49" cy="1832.36" r="6.3" fill="#1f77b4" stroke="none"/>
<circle cx="1590.87" cy="1833.6" r="6.3" fill="#1f77b4" stroke="none"/>
<circle cx="1605.24" cy="1835.68" r="6.3" fill="#1f77b4" stroke="none"/>
<circle cx="1619.61" cy="1840.37" r="6.3" fill="#1f77b4" stroke="none"/>
<circle cx="1633.99" cy="1839.6" r="6.3" fill="#1f77b4" stroke="none"/>
<circle cx="1648.36" cy="1839.6" r="6.3" fill="#1f77b4" stroke="none"/>
<circle cx="1662.73" cy="1839.6" r="6.3" fill="#1f77b4" stroke="none"/>
<circle cx="1677.11" cy="1839.6" r="6.3" fill="#1f77b4" stroke="none"/>
<circle cx="1691.48" cy="1839.6" r="6.3" fill="#1f77b4" stroke="none"/>
<circle cx="1705.85" cy="1839.6" r="6.3" fill="#1f77b4" stroke="none"/>
<circle cx="1720.23" cy="1839.6" r="6.3" fill="#1f77b4" stroke="none"/>
<circle cx="1734.6" cy="1839.6" r="6.3" fill="#1f77b4" stroke="none"/>
<line x1="1562.12" y1="2157.7" x2="1562.12" y2="1530.7" stroke="#e8141a" stroke-width="2.6" stroke-dasharray="11.4 4.95" stroke-linecap="butt" fill="none"/>
</g>
<rect x="996.35" y="1530.7" width="773.45" height="627" fill="none" stroke="#000" stroke-width="1.75" stroke-linejoin="miter"/>
<path d="M1030.3 2157.7v7.6M1171.16 2157.7v7.6M1312.02 2157.7v7.6M1452.88 2157.7v7.6M1593.74 2157.7v7.6M1734.6 2157.7v7.6M996.35 1535.1h-7.6M996.35 1611.22h-7.6M996.35 1687.35h-7.6M996.35 1763.47h-7.6M996.35 1839.6h-7.6M996.35 1915.72h-7.6M996.35 1991.85h-7.6M996.35 2067.97h-7.6M996.35 2144.1h-7.6" stroke="#000" stroke-width="1.75" fill="none"/>
<text x="1028.5" y="2187.5" text-anchor="middle" class="t">−3</text>
<text x="1169.36" y="2187.5" text-anchor="middle" class="t">−2</text>
<text x="1310.22" y="2187.5" text-anchor="middle" class="t">−1</text>
<text x="1453.28" y="2187.5" text-anchor="middle" class="t">0</text>
<text x="1594.14" y="2187.5" text-anchor="middle" class="t">1</text>
<text x="1735" y="2187.5" text-anchor="middle" class="t">2</text>
<text x="979.15" y="1542.7" text-anchor="end" class="t">10.0</text>
<text x="979.15" y="1618.82" text-anchor="end" class="t">7.5</text>
<text x="979.15" y="1694.95" text-anchor="end" class="t">5.0</text>
<text x="979.15" y="1771.07" text-anchor="end" class="t">2.5</text>
<text x="979.15" y="1847.2" text-anchor="end" class="t">0.0</text>
<text x="979.15" y="1923.32" text-anchor="end" class="t">−2.5</text>
<text x="979.15" y="1999.45" text-anchor="end" class="t">−5.0</text>
<text x="979.15" y="2075.57" text-anchor="end" class="t">−7.5</text>
<text x="979.15" y="2151.7" text-anchor="end" class="t">−10.0</text>
<text x="1381.08" y="1517.7" text-anchor="middle" class="ti">Coefficient Stability for DCE</text>
<text x="1381.08" y="2217" text-anchor="middle" class="t">log(Alpha)</text>
<text transform="translate(901.7 1844.2) rotate(-90)" text-anchor="middle" class="yl">Mean ± SD of Coefficients</text>
</svg>
</body></html>
